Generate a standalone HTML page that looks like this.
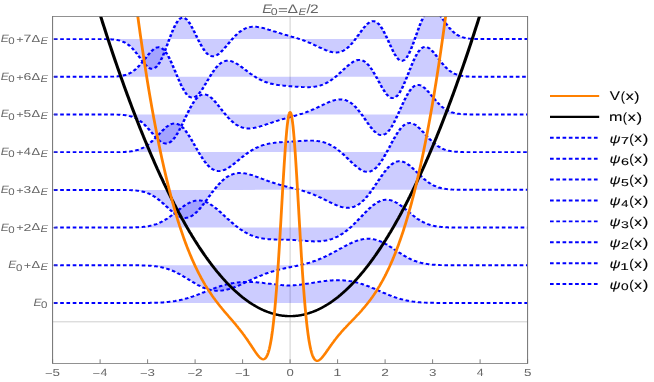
<!DOCTYPE html>
<html><head><meta charset="utf-8"><title>plot</title>
<style>
html,body{margin:0;padding:0;background:#fff;}
body{width:654px;height:382px;overflow:hidden;}
svg{display:block;font-family:"Liberation Sans",sans-serif;will-change:transform;text-rendering:geometricPrecision;}
</style></head><body>
<svg width="654" height="382" viewBox="0 0 654 382">
<defs><clipPath id="c"><rect x="40.153" y="16.5" width="362.595" height="347.0"/></clipPath></defs>
<rect width="654" height="382" fill="#fff"/>
<g transform="scale(1.31 1)">
<g stroke="#c6c6c6" stroke-width="0.75">
<line x1="221.45" y1="16.5" x2="221.45" y2="363.5"/>
<line x1="40.15" y1="321.80" x2="402.75" y2="321.80"/></g>
<g clip-path="url(#c)" fill="none">
<g fill="#0000ff" fill-opacity="0.2" stroke="#0000ff" stroke-width="1.95" stroke-dasharray="2.8 1.99" stroke-dashoffset="-1.0">
<path d="M40.15,302.9L40.67,302.9L41.19,302.9L41.71,302.9L42.22,302.9L42.74,302.9L43.26,302.9L43.78,302.9L44.30,302.9L44.81,302.9L45.33,302.9L45.85,302.9L46.37,302.9L46.89,302.9L47.40,302.9L47.92,302.9L48.44,302.9L48.96,302.9L49.48,302.9L49.99,302.9L50.51,302.9L51.03,302.9L51.55,302.9L52.07,302.9L52.58,302.9L53.10,302.9L53.62,302.9L54.14,302.9L54.66,302.9L55.17,302.9L55.69,302.9L56.21,302.9L56.73,302.9L57.25,302.9L57.76,302.9L58.28,302.9L58.80,302.9L59.32,302.9L59.84,302.9L60.35,302.9L60.87,302.9L61.39,302.9L61.91,302.9L62.43,302.9L62.94,302.9L63.46,302.9L63.98,302.9L64.50,302.9L65.02,302.9L65.53,302.9L66.05,302.9L66.57,302.9L67.09,302.9L67.61,302.9L68.12,302.9L68.64,302.9L69.16,302.9L69.68,302.9L70.20,302.9L70.71,302.9L71.23,302.9L71.75,302.9L72.27,302.9L72.79,302.9L73.30,302.9L73.82,302.9L74.34,302.9L74.86,302.9L75.38,302.9L75.89,302.9L76.41,302.9L76.93,302.9L77.45,302.9L77.97,302.9L78.48,302.9L79.00,302.9L79.52,302.9L80.04,302.9L80.56,302.9L81.07,302.9L81.59,302.9L82.11,302.9L82.63,302.9L83.15,302.9L83.66,302.9L84.18,302.9L84.70,302.9L85.22,302.9L85.74,302.9L86.25,302.9L86.77,302.9L87.29,302.9L87.81,302.9L88.33,302.9L88.84,302.9L89.36,302.9L89.88,302.9L90.40,302.9L90.92,302.9L91.43,302.9L91.95,302.9L92.47,302.9L92.99,302.9L93.51,302.9L94.02,302.9L94.54,302.9L95.06,302.9L95.58,302.9L96.10,302.9L96.61,302.9L97.13,302.9L97.65,302.9L98.17,302.9L98.69,302.9L99.20,302.9L99.72,302.9L100.24,302.9L100.76,302.9L101.28,302.9L101.79,302.9L102.31,302.9L102.83,302.9L103.35,302.9L103.87,302.9L104.38,302.9L104.90,302.9L105.42,302.9L105.94,302.9L106.46,302.9L106.97,302.9L107.49,302.9L108.01,302.9L108.53,302.9L109.05,302.9L109.56,302.9L110.08,302.9L110.60,302.9L111.12,302.9L111.64,302.9L112.15,302.9L112.67,302.9L113.19,302.9L113.71,302.9L114.23,302.9L114.74,302.8L115.26,302.8L115.78,302.8L116.30,302.8L116.82,302.8L117.33,302.8L117.85,302.8L118.37,302.7L118.89,302.7L119.41,302.7L119.92,302.7L120.44,302.6L120.96,302.6L121.48,302.6L122.00,302.6L122.51,302.5L123.03,302.5L123.55,302.4L124.07,302.4L124.59,302.4L125.10,302.3L125.62,302.3L126.14,302.2L126.66,302.2L127.18,302.1L127.69,302.0L128.21,302.0L128.73,301.9L129.25,301.8L129.77,301.7L130.28,301.7L130.80,301.6L131.32,301.5L131.84,301.4L132.36,301.3L132.87,301.2L133.39,301.1L133.91,301.0L134.43,300.8L134.95,300.7L135.46,300.6L135.98,300.5L136.50,300.3L137.02,300.2L137.54,300.0L138.05,299.9L138.57,299.7L139.09,299.6L139.61,299.4L140.13,299.2L140.64,299.1L141.16,298.9L141.68,298.7L142.20,298.5L142.72,298.3L143.23,298.1L143.75,297.9L144.27,297.7L144.79,297.5L145.31,297.3L145.82,297.0L146.34,296.8L146.86,296.6L147.38,296.4L147.90,296.1L148.41,295.9L148.93,295.6L149.45,295.4L149.97,295.1L150.49,294.9L151.00,294.6L151.52,294.4L152.04,294.1L152.56,293.9L153.08,293.6L153.59,293.3L154.11,293.1L154.63,292.8L155.15,292.5L155.67,292.3L156.18,292.0L156.70,291.7L157.22,291.5L157.74,291.2L158.26,290.9L158.77,290.7L159.29,290.4L159.81,290.1L160.33,289.9L160.85,289.6L161.36,289.3L161.88,289.1L162.40,288.8L162.92,288.6L163.44,288.3L163.95,288.1L164.47,287.8L164.99,287.6L165.51,287.4L166.03,287.1L166.54,286.9L167.06,286.7L167.58,286.5L168.10,286.2L168.62,286.0L169.13,285.8L169.65,285.6L170.17,285.4L170.69,285.2L171.21,285.0L171.72,284.9L172.24,284.7L172.76,284.5L173.28,284.3L173.79,284.2L174.31,284.0L174.83,283.9L175.35,283.7L175.87,283.6L176.38,283.5L176.90,283.3L177.42,283.2L177.94,283.1L178.46,283.0L178.97,282.9L179.49,282.8L180.01,282.7L180.53,282.6L181.05,282.5L181.56,282.4L182.08,282.4L182.60,282.3L183.12,282.2L183.64,282.2L184.15,282.1L184.67,282.1L185.19,282.1L185.71,282.0L186.23,282.0L186.74,282.0L187.26,281.9L187.78,281.9L188.30,281.9L188.82,281.9L189.33,281.9L189.85,281.9L190.37,281.9L190.89,282.0L191.41,282.0L191.92,282.0L192.44,282.0L192.96,282.1L193.48,282.1L194.00,282.1L194.51,282.2L195.03,282.2L195.55,282.3L196.07,282.3L196.59,282.4L197.10,282.4L197.62,282.5L198.14,282.6L198.66,282.6L199.18,282.7L199.69,282.8L200.21,282.8L200.73,282.9L201.25,283.0L201.77,283.1L202.28,283.2L202.80,283.2L203.32,283.3L203.84,283.4L204.36,283.5L204.87,283.6L205.39,283.7L205.91,283.8L206.43,283.8L206.95,283.9L207.46,284.0L207.98,284.1L208.50,284.2L209.02,284.3L209.54,284.3L210.05,284.4L210.57,284.5L211.09,284.6L211.61,284.7L212.13,284.7L212.64,284.8L213.16,284.9L213.68,284.9L214.20,285.0L214.72,285.0L215.23,285.1L215.75,285.2L216.27,285.2L216.79,285.2L217.31,285.3L217.82,285.3L218.34,285.3L218.86,285.4L219.38,285.4L219.90,285.4L220.41,285.4L220.93,285.4L221.45,285.4L221.97,285.4L222.49,285.4L223.00,285.3L223.52,285.3L224.04,285.3L224.56,285.2L225.08,285.2L225.59,285.1L226.11,285.1L226.63,285.0L227.15,285.0L227.67,284.9L228.18,284.8L228.70,284.8L229.22,284.7L229.74,284.6L230.26,284.5L230.77,284.4L231.29,284.3L231.81,284.2L232.33,284.1L232.85,284.1L233.36,283.9L233.88,283.8L234.40,283.7L234.92,283.6L235.44,283.5L235.95,283.4L236.47,283.3L236.99,283.2L237.51,283.1L238.03,283.0L238.54,282.9L239.06,282.8L239.58,282.6L240.10,282.5L240.62,282.4L241.13,282.3L241.65,282.2L242.17,282.1L242.69,282.0L243.21,281.9L243.72,281.8L244.24,281.7L244.76,281.6L245.28,281.5L245.80,281.4L246.31,281.3L246.83,281.2L247.35,281.1L247.87,281.0L248.39,281.0L248.90,280.9L249.42,280.8L249.94,280.7L250.46,280.7L250.98,280.6L251.49,280.6L252.01,280.5L252.53,280.4L253.05,280.4L253.57,280.4L254.08,280.3L254.60,280.3L255.12,280.2L255.64,280.2L256.16,280.2L256.67,280.2L257.19,280.2L257.71,280.2L258.23,280.2L258.75,280.2L259.26,280.2L259.78,280.2L260.30,280.2L260.82,280.3L261.34,280.3L261.85,280.3L262.37,280.4L262.89,280.4L263.41,280.5L263.93,280.6L264.44,280.6L264.96,280.7L265.48,280.8L266.00,280.9L266.52,281.0L267.03,281.1L267.55,281.2L268.07,281.3L268.59,281.4L269.11,281.6L269.62,281.7L270.14,281.8L270.66,282.0L271.18,282.1L271.70,282.3L272.21,282.5L272.73,282.6L273.25,282.8L273.77,283.0L274.29,283.2L274.80,283.4L275.32,283.6L275.84,283.8L276.36,284.0L276.88,284.3L277.39,284.5L277.91,284.7L278.43,285.0L278.95,285.2L279.47,285.4L279.98,285.7L280.50,286.0L281.02,286.2L281.54,286.5L282.06,286.7L282.57,287.0L283.09,287.3L283.61,287.6L284.13,287.9L284.65,288.1L285.16,288.4L285.68,288.7L286.20,289.0L286.72,289.3L287.24,289.6L287.75,289.9L288.27,290.2L288.79,290.5L289.31,290.8L289.83,291.1L290.34,291.4L290.86,291.7L291.38,292.0L291.90,292.3L292.42,292.6L292.93,292.8L293.45,293.1L293.97,293.4L294.49,293.7L295.01,294.0L295.52,294.3L296.04,294.6L296.56,294.8L297.08,295.1L297.60,295.4L298.11,295.6L298.63,295.9L299.15,296.2L299.67,296.4L300.19,296.7L300.70,296.9L301.22,297.1L301.74,297.4L302.26,297.6L302.78,297.8L303.29,298.0L303.81,298.3L304.33,298.5L304.85,298.7L305.37,298.9L305.88,299.1L306.40,299.2L306.92,299.4L307.44,299.6L307.96,299.8L308.47,299.9L308.99,300.1L309.51,300.2L310.03,300.4L310.55,300.5L311.06,300.7L311.58,300.8L312.10,300.9L312.62,301.0L313.14,301.1L313.65,301.3L314.17,301.4L314.69,301.5L315.21,301.6L315.73,301.6L316.24,301.7L316.76,301.8L317.28,301.9L317.80,302.0L318.32,302.0L318.83,302.1L319.35,302.2L319.87,302.2L320.39,302.3L320.91,302.3L321.42,302.4L321.94,302.4L322.46,302.5L322.98,302.5L323.50,302.5L324.01,302.6L324.53,302.6L325.05,302.6L325.57,302.7L326.09,302.7L326.60,302.7L327.12,302.7L327.64,302.7L328.16,302.8L328.68,302.8L329.19,302.8L329.71,302.8L330.23,302.8L330.75,302.8L331.26,302.8L331.78,302.9L332.30,302.9L332.82,302.9L333.34,302.9L333.85,302.9L334.37,302.9L334.89,302.9L335.41,302.9L335.93,302.9L336.44,302.9L336.96,302.9L337.48,302.9L338.00,302.9L338.52,302.9L339.03,302.9L339.55,302.9L340.07,302.9L340.59,302.9L341.11,302.9L341.62,302.9L342.14,302.9L342.66,302.9L343.18,302.9L343.70,302.9L344.21,302.9L344.73,302.9L345.25,302.9L345.77,302.9L346.29,302.9L346.80,302.9L347.32,302.9L347.84,302.9L348.36,302.9L348.88,302.9L349.39,302.9L349.91,302.9L350.43,302.9L350.95,302.9L351.47,302.9L351.98,302.9L352.50,302.9L353.02,302.9L353.54,302.9L354.06,302.9L354.57,302.9L355.09,302.9L355.61,302.9L356.13,302.9L356.65,302.9L357.16,302.9L357.68,302.9L358.20,302.9L358.72,302.9L359.24,302.9L359.75,302.9L360.27,302.9L360.79,302.9L361.31,302.9L361.83,302.9L362.34,302.9L362.86,302.9L363.38,302.9L363.90,302.9L364.42,302.9L364.93,302.9L365.45,302.9L365.97,302.9L366.49,302.9L367.01,302.9L367.52,302.9L368.04,302.9L368.56,302.9L369.08,302.9L369.60,302.9L370.11,302.9L370.63,302.9L371.15,302.9L371.67,302.9L372.19,302.9L372.70,302.9L373.22,302.9L373.74,302.9L374.26,302.9L374.78,302.9L375.29,302.9L375.81,302.9L376.33,302.9L376.85,302.9L377.37,302.9L377.88,302.9L378.40,302.9L378.92,302.9L379.44,302.9L379.96,302.9L380.47,302.9L380.99,302.9L381.51,302.9L382.03,302.9L382.55,302.9L383.06,302.9L383.58,302.9L384.10,302.9L384.62,302.9L385.14,302.9L385.65,302.9L386.17,302.9L386.69,302.9L387.21,302.9L387.73,302.9L388.24,302.9L388.76,302.9L389.28,302.9L389.80,302.9L390.32,302.9L390.83,302.9L391.35,302.9L391.87,302.9L392.39,302.9L392.91,302.9L393.42,302.9L393.94,302.9L394.46,302.9L394.98,302.9L395.50,302.9L396.01,302.9L396.53,302.9L397.05,302.9L397.57,302.9L398.09,302.9L398.60,302.9L399.12,302.9L399.64,302.9L400.16,302.9L400.68,302.9L401.19,302.9L401.71,302.9L402.23,302.9L402.75,302.9"/>
<path d="M40.15,265.2L40.67,265.2L41.19,265.2L41.71,265.2L42.22,265.2L42.74,265.2L43.26,265.2L43.78,265.2L44.30,265.2L44.81,265.2L45.33,265.2L45.85,265.2L46.37,265.3L46.89,265.3L47.40,265.3L47.92,265.3L48.44,265.3L48.96,265.3L49.48,265.3L49.99,265.3L50.51,265.3L51.03,265.3L51.55,265.3L52.07,265.3L52.58,265.3L53.10,265.3L53.62,265.3L54.14,265.3L54.66,265.3L55.17,265.3L55.69,265.3L56.21,265.3L56.73,265.3L57.25,265.3L57.76,265.3L58.28,265.3L58.80,265.3L59.32,265.3L59.84,265.3L60.35,265.3L60.87,265.3L61.39,265.3L61.91,265.3L62.43,265.3L62.94,265.3L63.46,265.3L63.98,265.3L64.50,265.3L65.02,265.3L65.53,265.3L66.05,265.3L66.57,265.3L67.09,265.3L67.61,265.3L68.12,265.3L68.64,265.3L69.16,265.3L69.68,265.3L70.20,265.3L70.71,265.3L71.23,265.3L71.75,265.3L72.27,265.3L72.79,265.3L73.30,265.3L73.82,265.3L74.34,265.3L74.86,265.3L75.38,265.3L75.89,265.3L76.41,265.3L76.93,265.3L77.45,265.3L77.97,265.3L78.48,265.3L79.00,265.3L79.52,265.3L80.04,265.3L80.56,265.3L81.07,265.3L81.59,265.3L82.11,265.3L82.63,265.3L83.15,265.3L83.66,265.3L84.18,265.3L84.70,265.3L85.22,265.3L85.74,265.3L86.25,265.3L86.77,265.3L87.29,265.3L87.81,265.3L88.33,265.3L88.84,265.3L89.36,265.3L89.88,265.3L90.40,265.3L90.92,265.3L91.43,265.3L91.95,265.3L92.47,265.3L92.99,265.3L93.51,265.3L94.02,265.3L94.54,265.3L95.06,265.3L95.58,265.3L96.10,265.3L96.61,265.3L97.13,265.3L97.65,265.3L98.17,265.3L98.69,265.3L99.20,265.3L99.72,265.3L100.24,265.3L100.76,265.3L101.28,265.3L101.79,265.3L102.31,265.3L102.83,265.3L103.35,265.3L103.87,265.3L104.38,265.3L104.90,265.3L105.42,265.3L105.94,265.3L106.46,265.3L106.97,265.4L107.49,265.4L108.01,265.4L108.53,265.4L109.05,265.4L109.56,265.4L110.08,265.5L110.60,265.5L111.12,265.5L111.64,265.5L112.15,265.6L112.67,265.6L113.19,265.6L113.71,265.7L114.23,265.7L114.74,265.8L115.26,265.8L115.78,265.9L116.30,265.9L116.82,266.0L117.33,266.1L117.85,266.2L118.37,266.2L118.89,266.3L119.41,266.4L119.92,266.5L120.44,266.6L120.96,266.7L121.48,266.8L122.00,267.0L122.51,267.1L123.03,267.2L123.55,267.4L124.07,267.5L124.59,267.7L125.10,267.8L125.62,268.0L126.14,268.2L126.66,268.4L127.18,268.6L127.69,268.8L128.21,269.0L128.73,269.3L129.25,269.5L129.77,269.7L130.28,270.0L130.80,270.3L131.32,270.5L131.84,270.8L132.36,271.1L132.87,271.4L133.39,271.7L133.91,272.1L134.43,272.4L134.95,272.7L135.46,273.1L135.98,273.4L136.50,273.8L137.02,274.1L137.54,274.5L138.05,274.9L138.57,275.3L139.09,275.7L139.61,276.1L140.13,276.5L140.64,276.9L141.16,277.3L141.68,277.7L142.20,278.1L142.72,278.5L143.23,278.9L143.75,279.3L144.27,279.8L144.79,280.2L145.31,280.6L145.82,281.0L146.34,281.4L146.86,281.8L147.38,282.2L147.90,282.6L148.41,283.0L148.93,283.4L149.45,283.8L149.97,284.2L150.49,284.6L151.00,285.0L151.52,285.3L152.04,285.7L152.56,286.0L153.08,286.4L153.59,286.7L154.11,287.0L154.63,287.3L155.15,287.6L155.67,287.9L156.18,288.2L156.70,288.4L157.22,288.7L157.74,288.9L158.26,289.1L158.77,289.3L159.29,289.5L159.81,289.7L160.33,289.9L160.85,290.0L161.36,290.2L161.88,290.3L162.40,290.4L162.92,290.5L163.44,290.6L163.95,290.6L164.47,290.7L164.99,290.7L165.51,290.8L166.03,290.8L166.54,290.8L167.06,290.8L167.58,290.7L168.10,290.7L168.62,290.6L169.13,290.6L169.65,290.5L170.17,290.4L170.69,290.3L171.21,290.2L171.72,290.0L172.24,289.9L172.76,289.8L173.28,289.6L173.79,289.4L174.31,289.2L174.83,289.1L175.35,288.8L175.87,288.6L176.38,288.4L176.90,288.2L177.42,288.0L177.94,287.7L178.46,287.5L178.97,287.2L179.49,287.0L180.01,286.7L180.53,286.4L181.05,286.1L181.56,285.8L182.08,285.6L182.60,285.3L183.12,285.0L183.64,284.7L184.15,284.4L184.67,284.1L185.19,283.8L185.71,283.4L186.23,283.1L186.74,282.8L187.26,282.5L187.78,282.2L188.30,281.9L188.82,281.6L189.33,281.3L189.85,280.9L190.37,280.6L190.89,280.3L191.41,280.0L191.92,279.7L192.44,279.4L192.96,279.1L193.48,278.8L194.00,278.5L194.51,278.1L195.03,277.8L195.55,277.5L196.07,277.3L196.59,277.0L197.10,276.7L197.62,276.4L198.14,276.1L198.66,275.8L199.18,275.6L199.69,275.3L200.21,275.0L200.73,274.7L201.25,274.5L201.77,274.2L202.28,274.0L202.80,273.7L203.32,273.5L203.84,273.2L204.36,273.0L204.87,272.8L205.39,272.5L205.91,272.3L206.43,272.1L206.95,271.9L207.46,271.7L207.98,271.5L208.50,271.3L209.02,271.1L209.54,270.9L210.05,270.7L210.57,270.5L211.09,270.3L211.61,270.1L212.13,269.9L212.64,269.8L213.16,269.6L213.68,269.4L214.20,269.3L214.72,269.1L215.23,268.9L215.75,268.8L216.27,268.6L216.79,268.5L217.31,268.3L217.82,268.2L218.34,268.0L218.86,267.9L219.38,267.8L219.90,267.6L220.41,267.5L220.93,267.3L221.45,267.2L221.97,267.1L222.49,266.9L223.00,266.8L223.52,266.7L224.04,266.5L224.56,266.4L225.08,266.2L225.59,266.1L226.11,266.0L226.63,265.8L227.15,265.7L227.67,265.5L228.18,265.4L228.70,265.2L229.22,265.1L229.74,264.9L230.26,264.8L230.77,264.6L231.29,264.4L231.81,264.3L232.33,264.1L232.85,263.9L233.36,263.7L233.88,263.6L234.40,263.4L234.92,263.2L235.44,263.0L235.95,262.8L236.47,262.6L236.99,262.4L237.51,262.2L238.03,261.9L238.54,261.7L239.06,261.5L239.58,261.2L240.10,261.0L240.62,260.8L241.13,260.5L241.65,260.3L242.17,260.0L242.69,259.7L243.21,259.5L243.72,259.2L244.24,258.9L244.76,258.6L245.28,258.3L245.80,258.0L246.31,257.7L246.83,257.4L247.35,257.1L247.87,256.8L248.39,256.5L248.90,256.2L249.42,255.8L249.94,255.5L250.46,255.2L250.98,254.8L251.49,254.5L252.01,254.1L252.53,253.8L253.05,253.4L253.57,253.1L254.08,252.7L254.60,252.4L255.12,252.0L255.64,251.6L256.16,251.3L256.67,250.9L257.19,250.5L257.71,250.1L258.23,249.8L258.75,249.4L259.26,249.0L259.78,248.6L260.30,248.3L260.82,247.9L261.34,247.5L261.85,247.2L262.37,246.8L262.89,246.4L263.41,246.1L263.93,245.7L264.44,245.4L264.96,245.0L265.48,244.7L266.00,244.3L266.52,244.0L267.03,243.7L267.55,243.4L268.07,243.1L268.59,242.7L269.11,242.5L269.62,242.2L270.14,241.9L270.66,241.6L271.18,241.3L271.70,241.1L272.21,240.9L272.73,240.6L273.25,240.4L273.77,240.2L274.29,240.0L274.80,239.8L275.32,239.7L275.84,239.5L276.36,239.4L276.88,239.2L277.39,239.1L277.91,239.0L278.43,238.9L278.95,238.9L279.47,238.8L279.98,238.8L280.50,238.7L281.02,238.7L281.54,238.8L282.06,238.8L282.57,238.8L283.09,238.9L283.61,239.0L284.13,239.0L284.65,239.2L285.16,239.3L285.68,239.4L286.20,239.6L286.72,239.7L287.24,239.9L287.75,240.1L288.27,240.4L288.79,240.6L289.31,240.8L289.83,241.1L290.34,241.4L290.86,241.7L291.38,242.0L291.90,242.3L292.42,242.6L292.93,243.0L293.45,243.3L293.97,243.7L294.49,244.1L295.01,244.4L295.52,244.8L296.04,245.2L296.56,245.6L297.08,246.1L297.60,246.5L298.11,246.9L298.63,247.3L299.15,247.8L299.67,248.2L300.19,248.7L300.70,249.1L301.22,249.6L301.74,250.0L302.26,250.5L302.78,250.9L303.29,251.4L303.81,251.8L304.33,252.3L304.85,252.7L305.37,253.1L305.88,253.6L306.40,254.0L306.92,254.4L307.44,254.8L307.96,255.2L308.47,255.7L308.99,256.0L309.51,256.4L310.03,256.8L310.55,257.2L311.06,257.6L311.58,257.9L312.10,258.3L312.62,258.6L313.14,258.9L313.65,259.3L314.17,259.6L314.69,259.9L315.21,260.2L315.73,260.4L316.24,260.7L316.76,261.0L317.28,261.2L317.80,261.4L318.32,261.7L318.83,261.9L319.35,262.1L319.87,262.3L320.39,262.5L320.91,262.7L321.42,262.9L321.94,263.0L322.46,263.2L322.98,263.3L323.50,263.5L324.01,263.6L324.53,263.7L325.05,263.8L325.57,263.9L326.09,264.0L326.60,264.1L327.12,264.2L327.64,264.3L328.16,264.4L328.68,264.5L329.19,264.5L329.71,264.6L330.23,264.7L330.75,264.7L331.26,264.8L331.78,264.8L332.30,264.8L332.82,264.9L333.34,264.9L333.85,265.0L334.37,265.0L334.89,265.0L335.41,265.0L335.93,265.1L336.44,265.1L336.96,265.1L337.48,265.1L338.00,265.1L338.52,265.1L339.03,265.2L339.55,265.2L340.07,265.2L340.59,265.2L341.11,265.2L341.62,265.2L342.14,265.2L342.66,265.2L343.18,265.2L343.70,265.2L344.21,265.2L344.73,265.2L345.25,265.2L345.77,265.2L346.29,265.2L346.80,265.2L347.32,265.2L347.84,265.2L348.36,265.2L348.88,265.2L349.39,265.2L349.91,265.2L350.43,265.2L350.95,265.2L351.47,265.2L351.98,265.2L352.50,265.2L353.02,265.2L353.54,265.2L354.06,265.2L354.57,265.2L355.09,265.2L355.61,265.2L356.13,265.2L356.65,265.2L357.16,265.2L357.68,265.2L358.20,265.2L358.72,265.2L359.24,265.2L359.75,265.2L360.27,265.2L360.79,265.2L361.31,265.2L361.83,265.2L362.34,265.2L362.86,265.2L363.38,265.2L363.90,265.2L364.42,265.2L364.93,265.2L365.45,265.2L365.97,265.2L366.49,265.2L367.01,265.2L367.52,265.2L368.04,265.2L368.56,265.2L369.08,265.2L369.60,265.2L370.11,265.2L370.63,265.2L371.15,265.2L371.67,265.2L372.19,265.2L372.70,265.2L373.22,265.2L373.74,265.2L374.26,265.2L374.78,265.2L375.29,265.2L375.81,265.2L376.33,265.2L376.85,265.2L377.37,265.2L377.88,265.2L378.40,265.2L378.92,265.2L379.44,265.2L379.96,265.2L380.47,265.2L380.99,265.2L381.51,265.2L382.03,265.2L382.55,265.2L383.06,265.2L383.58,265.2L384.10,265.2L384.62,265.2L385.14,265.2L385.65,265.2L386.17,265.2L386.69,265.2L387.21,265.2L387.73,265.2L388.24,265.2L388.76,265.2L389.28,265.2L389.80,265.2L390.32,265.2L390.83,265.2L391.35,265.2L391.87,265.2L392.39,265.2L392.91,265.2L393.42,265.2L393.94,265.2L394.46,265.2L394.98,265.2L395.50,265.2L396.01,265.2L396.53,265.2L397.05,265.2L397.57,265.2L398.09,265.2L398.60,265.2L399.12,265.2L399.64,265.2L400.16,265.2L400.68,265.2L401.19,265.2L401.71,265.2L402.23,265.2L402.75,265.2"/>
<path d="M40.15,227.6L40.67,227.6L41.19,227.6L41.71,227.6L42.22,227.6L42.74,227.5L43.26,227.5L43.78,227.5L44.30,227.5L44.81,227.5L45.33,227.5L45.85,227.5L46.37,227.5L46.89,227.5L47.40,227.5L47.92,227.5L48.44,227.5L48.96,227.5L49.48,227.5L49.99,227.5L50.51,227.5L51.03,227.5L51.55,227.5L52.07,227.5L52.58,227.5L53.10,227.5L53.62,227.5L54.14,227.5L54.66,227.5L55.17,227.5L55.69,227.5L56.21,227.5L56.73,227.5L57.25,227.5L57.76,227.5L58.28,227.5L58.80,227.5L59.32,227.5L59.84,227.5L60.35,227.5L60.87,227.5L61.39,227.5L61.91,227.5L62.43,227.5L62.94,227.5L63.46,227.5L63.98,227.5L64.50,227.5L65.02,227.5L65.53,227.5L66.05,227.5L66.57,227.5L67.09,227.5L67.61,227.5L68.12,227.5L68.64,227.5L69.16,227.5L69.68,227.5L70.20,227.5L70.71,227.5L71.23,227.5L71.75,227.5L72.27,227.5L72.79,227.5L73.30,227.5L73.82,227.5L74.34,227.5L74.86,227.5L75.38,227.5L75.89,227.5L76.41,227.5L76.93,227.5L77.45,227.5L77.97,227.5L78.48,227.5L79.00,227.5L79.52,227.5L80.04,227.5L80.56,227.5L81.07,227.5L81.59,227.5L82.11,227.5L82.63,227.5L83.15,227.5L83.66,227.5L84.18,227.5L84.70,227.5L85.22,227.5L85.74,227.5L86.25,227.5L86.77,227.5L87.29,227.5L87.81,227.5L88.33,227.5L88.84,227.5L89.36,227.5L89.88,227.5L90.40,227.5L90.92,227.5L91.43,227.5L91.95,227.5L92.47,227.5L92.99,227.5L93.51,227.5L94.02,227.5L94.54,227.5L95.06,227.5L95.58,227.5L96.10,227.5L96.61,227.5L97.13,227.5L97.65,227.5L98.17,227.5L98.69,227.5L99.20,227.5L99.72,227.5L100.24,227.5L100.76,227.4L101.28,227.4L101.79,227.4L102.31,227.4L102.83,227.4L103.35,227.4L103.87,227.3L104.38,227.3L104.90,227.3L105.42,227.2L105.94,227.2L106.46,227.2L106.97,227.1L107.49,227.1L108.01,227.0L108.53,227.0L109.05,226.9L109.56,226.8L110.08,226.8L110.60,226.7L111.12,226.6L111.64,226.5L112.15,226.4L112.67,226.3L113.19,226.2L113.71,226.1L114.23,225.9L114.74,225.8L115.26,225.6L115.78,225.5L116.30,225.3L116.82,225.1L117.33,224.9L117.85,224.7L118.37,224.5L118.89,224.3L119.41,224.1L119.92,223.8L120.44,223.5L120.96,223.3L121.48,223.0L122.00,222.7L122.51,222.3L123.03,222.0L123.55,221.7L124.07,221.3L124.59,220.9L125.10,220.6L125.62,220.2L126.14,219.8L126.66,219.3L127.18,218.9L127.69,218.5L128.21,218.0L128.73,217.5L129.25,217.1L129.77,216.6L130.28,216.1L130.80,215.6L131.32,215.1L131.84,214.6L132.36,214.0L132.87,213.5L133.39,213.0L133.91,212.5L134.43,211.9L134.95,211.4L135.46,210.9L135.98,210.3L136.50,209.8L137.02,209.3L137.54,208.8L138.05,208.2L138.57,207.7L139.09,207.2L139.61,206.7L140.13,206.3L140.64,205.8L141.16,205.3L141.68,204.9L142.20,204.5L142.72,204.1L143.23,203.7L143.75,203.3L144.27,203.0L144.79,202.6L145.31,202.3L145.82,202.0L146.34,201.7L146.86,201.5L147.38,201.3L147.90,201.1L148.41,200.9L148.93,200.8L149.45,200.6L149.97,200.5L150.49,200.5L151.00,200.4L151.52,200.4L152.04,200.4L152.56,200.5L153.08,200.5L153.59,200.6L154.11,200.7L154.63,200.9L155.15,201.0L155.67,201.2L156.18,201.4L156.70,201.7L157.22,202.0L157.74,202.3L158.26,202.6L158.77,202.9L159.29,203.3L159.81,203.6L160.33,204.1L160.85,204.5L161.36,204.9L161.88,205.4L162.40,205.8L162.92,206.3L163.44,206.8L163.95,207.4L164.47,207.9L164.99,208.5L165.51,209.0L166.03,209.6L166.54,210.2L167.06,210.7L167.58,211.3L168.10,212.0L168.62,212.6L169.13,213.2L169.65,213.8L170.17,214.4L170.69,215.0L171.21,215.7L171.72,216.3L172.24,216.9L172.76,217.6L173.28,218.2L173.79,218.8L174.31,219.4L174.83,220.0L175.35,220.6L175.87,221.3L176.38,221.9L176.90,222.4L177.42,223.0L177.94,223.6L178.46,224.2L178.97,224.8L179.49,225.3L180.01,225.9L180.53,226.4L181.05,226.9L181.56,227.4L182.08,227.9L182.60,228.4L183.12,228.9L183.64,229.4L184.15,229.8L184.67,230.3L185.19,230.7L185.71,231.2L186.23,231.6L186.74,232.0L187.26,232.4L187.78,232.7L188.30,233.1L188.82,233.5L189.33,233.8L189.85,234.1L190.37,234.5L190.89,234.8L191.41,235.1L191.92,235.3L192.44,235.6L192.96,235.9L193.48,236.1L194.00,236.4L194.51,236.6L195.03,236.8L195.55,237.0L196.07,237.2L196.59,237.4L197.10,237.6L197.62,237.7L198.14,237.9L198.66,238.0L199.18,238.2L199.69,238.3L200.21,238.4L200.73,238.5L201.25,238.6L201.77,238.7L202.28,238.8L202.80,238.9L203.32,239.0L203.84,239.1L204.36,239.1L204.87,239.2L205.39,239.2L205.91,239.3L206.43,239.3L206.95,239.4L207.46,239.4L207.98,239.4L208.50,239.5L209.02,239.5L209.54,239.5L210.05,239.5L210.57,239.5L211.09,239.6L211.61,239.6L212.13,239.6L212.64,239.6L213.16,239.6L213.68,239.6L214.20,239.6L214.72,239.6L215.23,239.6L215.75,239.6L216.27,239.6L216.79,239.7L217.31,239.7L217.82,239.7L218.34,239.7L218.86,239.7L219.38,239.7L219.90,239.7L220.41,239.8L220.93,239.8L221.45,239.8L221.97,239.8L222.49,239.9L223.00,239.9L223.52,239.9L224.04,240.0L224.56,240.0L225.08,240.1L225.59,240.1L226.11,240.2L226.63,240.2L227.15,240.3L227.67,240.3L228.18,240.4L228.70,240.4L229.22,240.5L229.74,240.5L230.26,240.6L230.77,240.6L231.29,240.7L231.81,240.7L232.33,240.8L232.85,240.8L233.36,240.9L233.88,241.0L234.40,241.0L234.92,241.1L235.44,241.1L235.95,241.1L236.47,241.2L236.99,241.2L237.51,241.3L238.03,241.3L238.54,241.3L239.06,241.3L239.58,241.4L240.10,241.4L240.62,241.4L241.13,241.4L241.65,241.4L242.17,241.4L242.69,241.3L243.21,241.3L243.72,241.3L244.24,241.2L244.76,241.2L245.28,241.1L245.80,241.1L246.31,241.0L246.83,240.9L247.35,240.8L247.87,240.7L248.39,240.6L248.90,240.5L249.42,240.4L249.94,240.2L250.46,240.1L250.98,239.9L251.49,239.7L252.01,239.5L252.53,239.3L253.05,239.1L253.57,238.9L254.08,238.6L254.60,238.4L255.12,238.1L255.64,237.8L256.16,237.5L256.67,237.2L257.19,236.9L257.71,236.6L258.23,236.2L258.75,235.8L259.26,235.5L259.78,235.1L260.30,234.6L260.82,234.2L261.34,233.8L261.85,233.3L262.37,232.8L262.89,232.4L263.41,231.9L263.93,231.3L264.44,230.8L264.96,230.3L265.48,229.7L266.00,229.2L266.52,228.6L267.03,228.0L267.55,227.4L268.07,226.8L268.59,226.1L269.11,225.5L269.62,224.8L270.14,224.2L270.66,223.5L271.18,222.8L271.70,222.2L272.21,221.5L272.73,220.8L273.25,220.1L273.77,219.4L274.29,218.7L274.80,218.0L275.32,217.3L275.84,216.6L276.36,215.9L276.88,215.1L277.39,214.4L277.91,213.7L278.43,213.0L278.95,212.4L279.47,211.7L279.98,211.0L280.50,210.3L281.02,209.7L281.54,209.0L282.06,208.4L282.57,207.8L283.09,207.2L283.61,206.6L284.13,206.1L284.65,205.5L285.16,205.0L285.68,204.5L286.20,204.0L286.72,203.5L287.24,203.1L287.75,202.7L288.27,202.3L288.79,201.9L289.31,201.6L289.83,201.2L290.34,201.0L290.86,200.7L291.38,200.5L291.90,200.3L292.42,200.1L292.93,200.0L293.45,199.9L293.97,199.8L294.49,199.7L295.01,199.7L295.52,199.7L296.04,199.8L296.56,199.8L297.08,199.9L297.60,200.1L298.11,200.2L298.63,200.4L299.15,200.6L299.67,200.9L300.19,201.1L300.70,201.4L301.22,201.7L301.74,202.1L302.26,202.5L302.78,202.8L303.29,203.2L303.81,203.7L304.33,204.1L304.85,204.6L305.37,205.1L305.88,205.5L306.40,206.0L306.92,206.6L307.44,207.1L307.96,207.6L308.47,208.2L308.99,208.7L309.51,209.3L310.03,209.8L310.55,210.4L311.06,211.0L311.58,211.5L312.10,212.1L312.62,212.7L313.14,213.2L313.65,213.8L314.17,214.3L314.69,214.9L315.21,215.4L315.73,215.9L316.24,216.4L316.76,217.0L317.28,217.5L317.80,217.9L318.32,218.4L318.83,218.9L319.35,219.3L319.87,219.8L320.39,220.2L320.91,220.6L321.42,221.0L321.94,221.4L322.46,221.7L322.98,222.1L323.50,222.4L324.01,222.8L324.53,223.1L325.05,223.4L325.57,223.6L326.09,223.9L326.60,224.2L327.12,224.4L327.64,224.6L328.16,224.9L328.68,225.1L329.19,225.3L329.71,225.4L330.23,225.6L330.75,225.8L331.26,225.9L331.78,226.0L332.30,226.2L332.82,226.3L333.34,226.4L333.85,226.5L334.37,226.6L334.89,226.7L335.41,226.8L335.93,226.8L336.44,226.9L336.96,227.0L337.48,227.0L338.00,227.1L338.52,227.1L339.03,227.2L339.55,227.2L340.07,227.3L340.59,227.3L341.11,227.3L341.62,227.3L342.14,227.4L342.66,227.4L343.18,227.4L343.70,227.4L344.21,227.4L344.73,227.5L345.25,227.5L345.77,227.5L346.29,227.5L346.80,227.5L347.32,227.5L347.84,227.5L348.36,227.5L348.88,227.5L349.39,227.5L349.91,227.5L350.43,227.5L350.95,227.5L351.47,227.5L351.98,227.5L352.50,227.5L353.02,227.5L353.54,227.5L354.06,227.5L354.57,227.5L355.09,227.5L355.61,227.5L356.13,227.5L356.65,227.5L357.16,227.5L357.68,227.5L358.20,227.5L358.72,227.5L359.24,227.5L359.75,227.5L360.27,227.5L360.79,227.5L361.31,227.5L361.83,227.5L362.34,227.5L362.86,227.5L363.38,227.5L363.90,227.5L364.42,227.5L364.93,227.5L365.45,227.5L365.97,227.5L366.49,227.5L367.01,227.5L367.52,227.5L368.04,227.5L368.56,227.5L369.08,227.5L369.60,227.5L370.11,227.5L370.63,227.5L371.15,227.5L371.67,227.5L372.19,227.5L372.70,227.5L373.22,227.5L373.74,227.5L374.26,227.5L374.78,227.5L375.29,227.5L375.81,227.5L376.33,227.5L376.85,227.5L377.37,227.5L377.88,227.5L378.40,227.5L378.92,227.5L379.44,227.5L379.96,227.5L380.47,227.5L380.99,227.5L381.51,227.5L382.03,227.5L382.55,227.5L383.06,227.5L383.58,227.5L384.10,227.5L384.62,227.5L385.14,227.5L385.65,227.5L386.17,227.5L386.69,227.5L387.21,227.5L387.73,227.5L388.24,227.5L388.76,227.5L389.28,227.5L389.80,227.5L390.32,227.5L390.83,227.5L391.35,227.5L391.87,227.5L392.39,227.5L392.91,227.5L393.42,227.5L393.94,227.5L394.46,227.5L394.98,227.5L395.50,227.5L396.01,227.5L396.53,227.5L397.05,227.5L397.57,227.5L398.09,227.5L398.60,227.5L399.12,227.5L399.64,227.5L400.16,227.5L400.68,227.5L401.19,227.5L401.71,227.5L402.23,227.5L402.75,227.6"/>
<path d="M40.15,189.9L40.67,189.9L41.19,189.9L41.71,189.9L42.22,189.9L42.74,189.9L43.26,189.9L43.78,189.9L44.30,189.9L44.81,189.9L45.33,189.9L45.85,189.9L46.37,189.9L46.89,189.9L47.40,189.9L47.92,189.9L48.44,189.9L48.96,189.9L49.48,189.9L49.99,189.9L50.51,189.9L51.03,189.9L51.55,189.9L52.07,189.9L52.58,189.9L53.10,189.9L53.62,189.9L54.14,189.9L54.66,189.9L55.17,189.9L55.69,189.9L56.21,189.9L56.73,189.9L57.25,189.9L57.76,189.9L58.28,189.9L58.80,189.9L59.32,189.9L59.84,189.9L60.35,189.9L60.87,189.9L61.39,189.9L61.91,189.9L62.43,189.9L62.94,189.9L63.46,189.9L63.98,189.9L64.50,189.9L65.02,189.9L65.53,189.9L66.05,189.9L66.57,189.9L67.09,189.9L67.61,189.9L68.12,189.9L68.64,189.9L69.16,189.9L69.68,189.9L70.20,189.9L70.71,189.9L71.23,189.9L71.75,189.9L72.27,189.9L72.79,189.9L73.30,189.9L73.82,189.9L74.34,189.9L74.86,189.9L75.38,189.9L75.89,189.9L76.41,189.9L76.93,189.9L77.45,189.9L77.97,189.9L78.48,189.9L79.00,189.9L79.52,189.9L80.04,189.9L80.56,189.9L81.07,189.9L81.59,189.9L82.11,189.9L82.63,189.9L83.15,189.9L83.66,189.9L84.18,189.9L84.70,189.9L85.22,189.9L85.74,189.9L86.25,189.9L86.77,189.9L87.29,189.9L87.81,189.9L88.33,189.9L88.84,189.9L89.36,189.9L89.88,189.9L90.40,189.9L90.92,189.9L91.43,189.9L91.95,189.9L92.47,189.9L92.99,189.9L93.51,189.9L94.02,189.9L94.54,189.9L95.06,189.9L95.58,189.9L96.10,190.0L96.61,190.0L97.13,190.0L97.65,190.0L98.17,190.0L98.69,190.1L99.20,190.1L99.72,190.1L100.24,190.2L100.76,190.2L101.28,190.2L101.79,190.3L102.31,190.3L102.83,190.4L103.35,190.5L103.87,190.5L104.38,190.6L104.90,190.7L105.42,190.8L105.94,190.9L106.46,191.0L106.97,191.1L107.49,191.2L108.01,191.4L108.53,191.5L109.05,191.7L109.56,191.8L110.08,192.0L110.60,192.2L111.12,192.4L111.64,192.7L112.15,192.9L112.67,193.2L113.19,193.4L113.71,193.7L114.23,194.0L114.74,194.3L115.26,194.7L115.78,195.0L116.30,195.4L116.82,195.8L117.33,196.2L117.85,196.6L118.37,197.1L118.89,197.5L119.41,198.0L119.92,198.5L120.44,199.0L120.96,199.5L121.48,200.0L122.00,200.6L122.51,201.1L123.03,201.7L123.55,202.3L124.07,202.9L124.59,203.5L125.10,204.1L125.62,204.7L126.14,205.4L126.66,206.0L127.18,206.6L127.69,207.2L128.21,207.9L128.73,208.5L129.25,209.1L129.77,209.7L130.28,210.3L130.80,210.9L131.32,211.5L131.84,212.1L132.36,212.6L132.87,213.2L133.39,213.7L133.91,214.2L134.43,214.6L134.95,215.1L135.46,215.5L135.98,215.9L136.50,216.2L137.02,216.6L137.54,216.9L138.05,217.1L138.57,217.3L139.09,217.5L139.61,217.7L140.13,217.8L140.64,217.9L141.16,217.9L141.68,217.9L142.20,217.8L142.72,217.7L143.23,217.6L143.75,217.4L144.27,217.2L144.79,216.9L145.31,216.6L145.82,216.3L146.34,215.9L146.86,215.5L147.38,215.0L147.90,214.6L148.41,214.0L148.93,213.5L149.45,212.9L149.97,212.2L150.49,211.6L151.00,210.9L151.52,210.1L152.04,209.4L152.56,208.6L153.08,207.8L153.59,207.0L154.11,206.2L154.63,205.3L155.15,204.4L155.67,203.5L156.18,202.7L156.70,201.7L157.22,200.8L157.74,199.9L158.26,199.0L158.77,198.1L159.29,197.1L159.81,196.2L160.33,195.3L160.85,194.4L161.36,193.4L161.88,192.5L162.40,191.6L162.92,190.8L163.44,189.9L163.95,189.0L164.47,188.2L164.99,187.4L165.51,186.5L166.03,185.8L166.54,185.0L167.06,184.2L167.58,183.5L168.10,182.8L168.62,182.1L169.13,181.4L169.65,180.8L170.17,180.2L170.69,179.6L171.21,179.0L171.72,178.5L172.24,178.0L172.76,177.5L173.28,177.1L173.79,176.6L174.31,176.2L174.83,175.8L175.35,175.5L175.87,175.1L176.38,174.8L176.90,174.6L177.42,174.3L177.94,174.1L178.46,173.9L178.97,173.7L179.49,173.5L180.01,173.4L180.53,173.3L181.05,173.2L181.56,173.1L182.08,173.0L182.60,173.0L183.12,173.0L183.64,173.0L184.15,173.0L184.67,173.1L185.19,173.1L185.71,173.2L186.23,173.3L186.74,173.4L187.26,173.5L187.78,173.6L188.30,173.7L188.82,173.9L189.33,174.0L189.85,174.2L190.37,174.4L190.89,174.6L191.41,174.8L191.92,175.0L192.44,175.2L192.96,175.4L193.48,175.6L194.00,175.8L194.51,176.1L195.03,176.3L195.55,176.6L196.07,176.8L196.59,177.1L197.10,177.3L197.62,177.6L198.14,177.8L198.66,178.1L199.18,178.3L199.69,178.6L200.21,178.8L200.73,179.1L201.25,179.3L201.77,179.6L202.28,179.9L202.80,180.1L203.32,180.4L203.84,180.6L204.36,180.9L204.87,181.1L205.39,181.3L205.91,181.6L206.43,181.8L206.95,182.1L207.46,182.3L207.98,182.5L208.50,182.7L209.02,183.0L209.54,183.2L210.05,183.4L210.57,183.6L211.09,183.8L211.61,184.0L212.13,184.2L212.64,184.4L213.16,184.6L213.68,184.8L214.20,185.0L214.72,185.2L215.23,185.4L215.75,185.6L216.27,185.8L216.79,185.9L217.31,186.1L217.82,186.3L218.34,186.5L218.86,186.6L219.38,186.8L219.90,187.0L220.41,187.1L220.93,187.3L221.45,187.5L221.97,187.6L222.49,187.8L223.00,188.0L223.52,188.1L224.04,188.3L224.56,188.5L225.08,188.6L225.59,188.8L226.11,189.0L226.63,189.1L227.15,189.3L227.67,189.5L228.18,189.7L228.70,189.9L229.22,190.1L229.74,190.2L230.26,190.4L230.77,190.6L231.29,190.8L231.81,191.0L232.33,191.3L232.85,191.5L233.36,191.7L233.88,191.9L234.40,192.1L234.92,192.4L235.44,192.6L235.95,192.9L236.47,193.1L236.99,193.4L237.51,193.6L238.03,193.9L238.54,194.1L239.06,194.4L239.58,194.7L240.10,195.0L240.62,195.3L241.13,195.5L241.65,195.8L242.17,196.1L242.69,196.4L243.21,196.8L243.72,197.1L244.24,197.4L244.76,197.7L245.28,198.0L245.80,198.4L246.31,198.7L246.83,199.0L247.35,199.3L247.87,199.7L248.39,200.0L248.90,200.3L249.42,200.7L249.94,201.0L250.46,201.4L250.98,201.7L251.49,202.0L252.01,202.3L252.53,202.7L253.05,203.0L253.57,203.3L254.08,203.6L254.60,203.9L255.12,204.2L255.64,204.5L256.16,204.8L256.67,205.1L257.19,205.4L257.71,205.6L258.23,205.9L258.75,206.1L259.26,206.4L259.78,206.6L260.30,206.8L260.82,207.0L261.34,207.1L261.85,207.3L262.37,207.4L262.89,207.5L263.41,207.6L263.93,207.7L264.44,207.8L264.96,207.8L265.48,207.8L266.00,207.8L266.52,207.8L267.03,207.7L267.55,207.6L268.07,207.5L268.59,207.4L269.11,207.2L269.62,207.0L270.14,206.8L270.66,206.5L271.18,206.2L271.70,205.9L272.21,205.6L272.73,205.2L273.25,204.8L273.77,204.4L274.29,203.9L274.80,203.4L275.32,202.9L275.84,202.3L276.36,201.7L276.88,201.1L277.39,200.5L277.91,199.8L278.43,199.1L278.95,198.4L279.47,197.6L279.98,196.8L280.50,196.0L281.02,195.2L281.54,194.3L282.06,193.4L282.57,192.5L283.09,191.6L283.61,190.7L284.13,189.7L284.65,188.7L285.16,187.8L285.68,186.8L286.20,185.8L286.72,184.8L287.24,183.7L287.75,182.7L288.27,181.7L288.79,180.7L289.31,179.7L289.83,178.7L290.34,177.7L290.86,176.7L291.38,175.7L291.90,174.8L292.42,173.8L292.93,172.9L293.45,172.0L293.97,171.2L294.49,170.3L295.01,169.5L295.52,168.7L296.04,167.9L296.56,167.2L297.08,166.5L297.60,165.9L298.11,165.3L298.63,164.7L299.15,164.2L299.67,163.7L300.19,163.2L300.70,162.8L301.22,162.5L301.74,162.2L302.26,161.9L302.78,161.7L303.29,161.5L303.81,161.4L304.33,161.3L304.85,161.2L305.37,161.3L305.88,161.3L306.40,161.4L306.92,161.5L307.44,161.7L307.96,162.0L308.47,162.2L308.99,162.5L309.51,162.9L310.03,163.2L310.55,163.6L311.06,164.1L311.58,164.5L312.10,165.0L312.62,165.5L313.14,166.1L313.65,166.7L314.17,167.2L314.69,167.8L315.21,168.4L315.73,169.1L316.24,169.7L316.76,170.4L317.28,171.0L317.80,171.7L318.32,172.3L318.83,173.0L319.35,173.7L319.87,174.3L320.39,175.0L320.91,175.6L321.42,176.2L321.94,176.9L322.46,177.5L322.98,178.1L323.50,178.7L324.01,179.3L324.53,179.8L325.05,180.4L325.57,180.9L326.09,181.4L326.60,181.9L327.12,182.4L327.64,182.9L328.16,183.3L328.68,183.7L329.19,184.2L329.71,184.5L330.23,184.9L330.75,185.3L331.26,185.6L331.78,185.9L332.30,186.2L332.82,186.5L333.34,186.8L333.85,187.0L334.37,187.2L334.89,187.5L335.41,187.7L335.93,187.8L336.44,188.0L336.96,188.2L337.48,188.3L338.00,188.5L338.52,188.6L339.03,188.7L339.55,188.8L340.07,188.9L340.59,189.0L341.11,189.1L341.62,189.2L342.14,189.3L342.66,189.3L343.18,189.4L343.70,189.4L344.21,189.5L344.73,189.5L345.25,189.6L345.77,189.6L346.29,189.6L346.80,189.7L347.32,189.7L347.84,189.7L348.36,189.7L348.88,189.7L349.39,189.8L349.91,189.8L350.43,189.8L350.95,189.8L351.47,189.8L351.98,189.8L352.50,189.8L353.02,189.8L353.54,189.8L354.06,189.8L354.57,189.8L355.09,189.8L355.61,189.8L356.13,189.8L356.65,189.8L357.16,189.8L357.68,189.8L358.20,189.8L358.72,189.8L359.24,189.8L359.75,189.8L360.27,189.8L360.79,189.8L361.31,189.8L361.83,189.8L362.34,189.8L362.86,189.8L363.38,189.8L363.90,189.8L364.42,189.8L364.93,189.8L365.45,189.8L365.97,189.8L366.49,189.8L367.01,189.8L367.52,189.8L368.04,189.8L368.56,189.8L369.08,189.8L369.60,189.8L370.11,189.8L370.63,189.8L371.15,189.8L371.67,189.8L372.19,189.8L372.70,189.8L373.22,189.8L373.74,189.8L374.26,189.8L374.78,189.8L375.29,189.8L375.81,189.8L376.33,189.8L376.85,189.8L377.37,189.8L377.88,189.8L378.40,189.8L378.92,189.8L379.44,189.8L379.96,189.8L380.47,189.8L380.99,189.8L381.51,189.8L382.03,189.8L382.55,189.8L383.06,189.8L383.58,189.8L384.10,189.8L384.62,189.8L385.14,189.8L385.65,189.8L386.17,189.8L386.69,189.8L387.21,189.8L387.73,189.8L388.24,189.8L388.76,189.8L389.28,189.8L389.80,189.8L390.32,189.8L390.83,189.8L391.35,189.8L391.87,189.8L392.39,189.8L392.91,189.8L393.42,189.8L393.94,189.8L394.46,189.8L394.98,189.8L395.50,189.8L396.01,189.8L396.53,189.8L397.05,189.8L397.57,189.8L398.09,189.8L398.60,189.8L399.12,189.8L399.64,189.8L400.16,189.8L400.68,189.8L401.19,189.8L401.71,189.8L402.23,189.8L402.75,189.8"/>
<path d="M40.15,152.1L40.67,152.1L41.19,152.1L41.71,152.1L42.22,152.1L42.74,152.1L43.26,152.1L43.78,152.1L44.30,152.1L44.81,152.1L45.33,152.1L45.85,152.1L46.37,152.1L46.89,152.1L47.40,152.1L47.92,152.1L48.44,152.1L48.96,152.1L49.48,152.1L49.99,152.1L50.51,152.1L51.03,152.1L51.55,152.1L52.07,152.1L52.58,152.1L53.10,152.1L53.62,152.1L54.14,152.1L54.66,152.1L55.17,152.1L55.69,152.1L56.21,152.1L56.73,152.1L57.25,152.1L57.76,152.1L58.28,152.1L58.80,152.1L59.32,152.1L59.84,152.1L60.35,152.1L60.87,152.1L61.39,152.1L61.91,152.1L62.43,152.1L62.94,152.1L63.46,152.1L63.98,152.1L64.50,152.1L65.02,152.1L65.53,152.1L66.05,152.1L66.57,152.1L67.09,152.1L67.61,152.1L68.12,152.1L68.64,152.1L69.16,152.1L69.68,152.1L70.20,152.1L70.71,152.1L71.23,152.1L71.75,152.1L72.27,152.1L72.79,152.1L73.30,152.1L73.82,152.1L74.34,152.1L74.86,152.1L75.38,152.1L75.89,152.1L76.41,152.1L76.93,152.1L77.45,152.1L77.97,152.1L78.48,152.1L79.00,152.1L79.52,152.1L80.04,152.1L80.56,152.1L81.07,152.1L81.59,152.1L82.11,152.1L82.63,152.1L83.15,152.1L83.66,152.1L84.18,152.1L84.70,152.1L85.22,152.1L85.74,152.1L86.25,152.1L86.77,152.1L87.29,152.1L87.81,152.1L88.33,152.1L88.84,152.1L89.36,152.1L89.88,152.1L90.40,152.1L90.92,152.1L91.43,152.1L91.95,152.0L92.47,152.0L92.99,152.0L93.51,152.0L94.02,152.0L94.54,151.9L95.06,151.9L95.58,151.9L96.10,151.8L96.61,151.8L97.13,151.7L97.65,151.7L98.17,151.6L98.69,151.6L99.20,151.5L99.72,151.4L100.24,151.3L100.76,151.2L101.28,151.1L101.79,151.0L102.31,150.8L102.83,150.7L103.35,150.5L103.87,150.4L104.38,150.2L104.90,150.0L105.42,149.8L105.94,149.6L106.46,149.3L106.97,149.1L107.49,148.8L108.01,148.5L108.53,148.2L109.05,147.8L109.56,147.5L110.08,147.1L110.60,146.7L111.12,146.3L111.64,145.8L112.15,145.4L112.67,144.9L113.19,144.4L113.71,143.8L114.23,143.3L114.74,142.7L115.26,142.1L115.78,141.5L116.30,140.9L116.82,140.3L117.33,139.6L117.85,139.0L118.37,138.3L118.89,137.6L119.41,136.9L119.92,136.2L120.44,135.5L120.96,134.8L121.48,134.1L122.00,133.3L122.51,132.6L123.03,131.9L123.55,131.3L124.07,130.6L124.59,129.9L125.10,129.3L125.62,128.6L126.14,128.0L126.66,127.5L127.18,126.9L127.69,126.4L128.21,125.9L128.73,125.5L129.25,125.1L129.77,124.7L130.28,124.4L130.80,124.1L131.32,123.9L131.84,123.7L132.36,123.6L132.87,123.5L133.39,123.5L133.91,123.5L134.43,123.6L134.95,123.8L135.46,124.0L135.98,124.3L136.50,124.6L137.02,125.0L137.54,125.4L138.05,125.9L138.57,126.5L139.09,127.1L139.61,127.7L140.13,128.4L140.64,129.2L141.16,130.0L141.68,130.8L142.20,131.7L142.72,132.7L143.23,133.6L143.75,134.7L144.27,135.7L144.79,136.8L145.31,137.9L145.82,139.0L146.34,140.1L146.86,141.3L147.38,142.5L147.90,143.6L148.41,144.8L148.93,146.0L149.45,147.2L149.97,148.4L150.49,149.6L151.00,150.8L151.52,151.9L152.04,153.1L152.56,154.2L153.08,155.3L153.59,156.4L154.11,157.4L154.63,158.5L155.15,159.5L155.67,160.4L156.18,161.4L156.70,162.3L157.22,163.1L157.74,163.9L158.26,164.7L158.77,165.5L159.29,166.1L159.81,166.8L160.33,167.4L160.85,168.0L161.36,168.5L161.88,168.9L162.40,169.3L162.92,169.7L163.44,170.0L163.95,170.3L164.47,170.6L164.99,170.8L165.51,170.9L166.03,171.0L166.54,171.1L167.06,171.1L167.58,171.1L168.10,171.0L168.62,170.9L169.13,170.8L169.65,170.6L170.17,170.4L170.69,170.2L171.21,170.0L171.72,169.7L172.24,169.4L172.76,169.0L173.28,168.6L173.79,168.2L174.31,167.8L174.83,167.4L175.35,167.0L175.87,166.5L176.38,166.0L176.90,165.5L177.42,165.0L177.94,164.5L178.46,164.0L178.97,163.4L179.49,162.9L180.01,162.3L180.53,161.8L181.05,161.2L181.56,160.7L182.08,160.1L182.60,159.5L183.12,159.0L183.64,158.4L184.15,157.9L184.67,157.3L185.19,156.8L185.71,156.3L186.23,155.7L186.74,155.2L187.26,154.7L187.78,154.2L188.30,153.7L188.82,153.2L189.33,152.7L189.85,152.3L190.37,151.8L190.89,151.4L191.41,151.0L191.92,150.5L192.44,150.1L192.96,149.7L193.48,149.3L194.00,149.0L194.51,148.6L195.03,148.3L195.55,147.9L196.07,147.6L196.59,147.3L197.10,147.0L197.62,146.7L198.14,146.4L198.66,146.1L199.18,145.9L199.69,145.6L200.21,145.4L200.73,145.2L201.25,145.0L201.77,144.8L202.28,144.6L202.80,144.4L203.32,144.2L203.84,144.1L204.36,143.9L204.87,143.8L205.39,143.6L205.91,143.5L206.43,143.4L206.95,143.3L207.46,143.2L207.98,143.1L208.50,143.0L209.02,142.9L209.54,142.8L210.05,142.7L210.57,142.6L211.09,142.6L211.61,142.5L212.13,142.5L212.64,142.4L213.16,142.3L213.68,142.3L214.20,142.2L214.72,142.2L215.23,142.1L215.75,142.1L216.27,142.1L216.79,142.0L217.31,142.0L217.82,141.9L218.34,141.9L218.86,141.9L219.38,141.8L219.90,141.8L220.41,141.7L220.93,141.7L221.45,141.7L221.97,141.6L222.49,141.6L223.00,141.5L223.52,141.5L224.04,141.4L224.56,141.4L225.08,141.3L225.59,141.3L226.11,141.3L226.63,141.2L227.15,141.2L227.67,141.1L228.18,141.1L228.70,141.0L229.22,141.0L229.74,140.9L230.26,140.9L230.77,140.8L231.29,140.8L231.81,140.8L232.33,140.7L232.85,140.7L233.36,140.7L233.88,140.6L234.40,140.6L234.92,140.6L235.44,140.6L235.95,140.6L236.47,140.6L236.99,140.6L237.51,140.6L238.03,140.6L238.54,140.6L239.06,140.6L239.58,140.7L240.10,140.7L240.62,140.8L241.13,140.8L241.65,140.9L242.17,141.0L242.69,141.1L243.21,141.2L243.72,141.3L244.24,141.4L244.76,141.5L245.28,141.7L245.80,141.9L246.31,142.0L246.83,142.2L247.35,142.4L247.87,142.6L248.39,142.8L248.90,143.1L249.42,143.3L249.94,143.6L250.46,143.9L250.98,144.2L251.49,144.5L252.01,144.9L252.53,145.2L253.05,145.6L253.57,146.0L254.08,146.4L254.60,146.8L255.12,147.2L255.64,147.6L256.16,148.1L256.67,148.6L257.19,149.1L257.71,149.6L258.23,150.1L258.75,150.6L259.26,151.2L259.78,151.7L260.30,152.3L260.82,152.9L261.34,153.5L261.85,154.1L262.37,154.7L262.89,155.4L263.41,156.0L263.93,156.6L264.44,157.3L264.96,157.9L265.48,158.6L266.00,159.3L266.52,159.9L267.03,160.6L267.55,161.2L268.07,161.9L268.59,162.5L269.11,163.2L269.62,163.8L270.14,164.4L270.66,165.0L271.18,165.6L271.70,166.2L272.21,166.8L272.73,167.3L273.25,167.9L273.77,168.3L274.29,168.8L274.80,169.3L275.32,169.7L275.84,170.1L276.36,170.4L276.88,170.7L277.39,171.0L277.91,171.3L278.43,171.5L278.95,171.6L279.47,171.7L279.98,171.8L280.50,171.8L281.02,171.8L281.54,171.8L282.06,171.6L282.57,171.5L283.09,171.2L283.61,171.0L284.13,170.6L284.65,170.3L285.16,169.8L285.68,169.3L286.20,168.8L286.72,168.2L287.24,167.6L287.75,166.9L288.27,166.1L288.79,165.3L289.31,164.5L289.83,163.6L290.34,162.7L290.86,161.7L291.38,160.7L291.90,159.6L292.42,158.5L292.93,157.4L293.45,156.2L293.97,155.0L294.49,153.8L295.01,152.6L295.52,151.4L296.04,150.1L296.56,148.8L297.08,147.6L297.60,146.3L298.11,145.0L298.63,143.7L299.15,142.5L299.67,141.2L300.19,140.0L300.70,138.8L301.22,137.6L301.74,136.4L302.26,135.3L302.78,134.2L303.29,133.1L303.81,132.1L304.33,131.1L304.85,130.2L305.37,129.3L305.88,128.4L306.40,127.7L306.92,126.9L307.44,126.3L307.96,125.7L308.47,125.1L308.99,124.6L309.51,124.2L310.03,123.9L310.55,123.6L311.06,123.3L311.58,123.2L312.10,123.1L312.62,123.0L313.14,123.0L313.65,123.1L314.17,123.2L314.69,123.4L315.21,123.7L315.73,124.0L316.24,124.3L316.76,124.7L317.28,125.1L317.80,125.6L318.32,126.1L318.83,126.7L319.35,127.3L319.87,127.9L320.39,128.5L320.91,129.2L321.42,129.9L321.94,130.6L322.46,131.3L322.98,132.0L323.50,132.7L324.01,133.5L324.53,134.2L325.05,135.0L325.57,135.7L326.09,136.4L326.60,137.2L327.12,137.9L327.64,138.6L328.16,139.3L328.68,140.0L329.19,140.6L329.71,141.3L330.23,141.9L330.75,142.5L331.26,143.1L331.78,143.7L332.30,144.2L332.82,144.8L333.34,145.3L333.85,145.7L334.37,146.2L334.89,146.6L335.41,147.1L335.93,147.4L336.44,147.8L336.96,148.2L337.48,148.5L338.00,148.8L338.52,149.1L339.03,149.3L339.55,149.6L340.07,149.8L340.59,150.0L341.11,150.2L341.62,150.4L342.14,150.6L342.66,150.7L343.18,150.9L343.70,151.0L344.21,151.1L344.73,151.2L345.25,151.3L345.77,151.4L346.29,151.5L346.80,151.6L347.32,151.6L347.84,151.7L348.36,151.8L348.88,151.8L349.39,151.8L349.91,151.9L350.43,151.9L350.95,151.9L351.47,152.0L351.98,152.0L352.50,152.0L353.02,152.0L353.54,152.1L354.06,152.1L354.57,152.1L355.09,152.1L355.61,152.1L356.13,152.1L356.65,152.1L357.16,152.1L357.68,152.1L358.20,152.1L358.72,152.1L359.24,152.1L359.75,152.1L360.27,152.1L360.79,152.1L361.31,152.1L361.83,152.1L362.34,152.1L362.86,152.1L363.38,152.1L363.90,152.1L364.42,152.1L364.93,152.1L365.45,152.1L365.97,152.1L366.49,152.1L367.01,152.1L367.52,152.1L368.04,152.1L368.56,152.1L369.08,152.1L369.60,152.1L370.11,152.1L370.63,152.1L371.15,152.1L371.67,152.1L372.19,152.1L372.70,152.1L373.22,152.1L373.74,152.1L374.26,152.1L374.78,152.1L375.29,152.1L375.81,152.1L376.33,152.1L376.85,152.1L377.37,152.1L377.88,152.1L378.40,152.1L378.92,152.1L379.44,152.1L379.96,152.1L380.47,152.1L380.99,152.1L381.51,152.1L382.03,152.1L382.55,152.1L383.06,152.1L383.58,152.1L384.10,152.1L384.62,152.1L385.14,152.1L385.65,152.1L386.17,152.1L386.69,152.1L387.21,152.1L387.73,152.1L388.24,152.1L388.76,152.1L389.28,152.1L389.80,152.1L390.32,152.1L390.83,152.1L391.35,152.1L391.87,152.1L392.39,152.1L392.91,152.1L393.42,152.1L393.94,152.1L394.46,152.1L394.98,152.1L395.50,152.1L396.01,152.1L396.53,152.1L397.05,152.1L397.57,152.1L398.09,152.1L398.60,152.1L399.12,152.1L399.64,152.1L400.16,152.1L400.68,152.1L401.19,152.1L401.71,152.1L402.23,152.1L402.75,152.1"/>
<path d="M40.15,114.5L40.67,114.5L41.19,114.5L41.71,114.5L42.22,114.5L42.74,114.5L43.26,114.5L43.78,114.5L44.30,114.5L44.81,114.5L45.33,114.5L45.85,114.5L46.37,114.5L46.89,114.5L47.40,114.5L47.92,114.5L48.44,114.5L48.96,114.5L49.48,114.5L49.99,114.5L50.51,114.5L51.03,114.5L51.55,114.5L52.07,114.5L52.58,114.5L53.10,114.5L53.62,114.5L54.14,114.5L54.66,114.5L55.17,114.5L55.69,114.5L56.21,114.5L56.73,114.5L57.25,114.5L57.76,114.5L58.28,114.5L58.80,114.5L59.32,114.5L59.84,114.5L60.35,114.5L60.87,114.5L61.39,114.5L61.91,114.5L62.43,114.5L62.94,114.5L63.46,114.5L63.98,114.5L64.50,114.5L65.02,114.5L65.53,114.5L66.05,114.5L66.57,114.5L67.09,114.5L67.61,114.5L68.12,114.5L68.64,114.5L69.16,114.5L69.68,114.5L70.20,114.5L70.71,114.5L71.23,114.5L71.75,114.5L72.27,114.5L72.79,114.5L73.30,114.5L73.82,114.5L74.34,114.5L74.86,114.5L75.38,114.5L75.89,114.5L76.41,114.5L76.93,114.5L77.45,114.5L77.97,114.5L78.48,114.5L79.00,114.5L79.52,114.5L80.04,114.5L80.56,114.5L81.07,114.5L81.59,114.5L82.11,114.5L82.63,114.5L83.15,114.5L83.66,114.5L84.18,114.5L84.70,114.5L85.22,114.5L85.74,114.5L86.25,114.5L86.77,114.5L87.29,114.5L87.81,114.5L88.33,114.6L88.84,114.6L89.36,114.6L89.88,114.6L90.40,114.7L90.92,114.7L91.43,114.7L91.95,114.8L92.47,114.8L92.99,114.8L93.51,114.9L94.02,115.0L94.54,115.0L95.06,115.1L95.58,115.2L96.10,115.3L96.61,115.4L97.13,115.5L97.65,115.7L98.17,115.8L98.69,116.0L99.20,116.1L99.72,116.3L100.24,116.5L100.76,116.7L101.28,117.0L101.79,117.2L102.31,117.5L102.83,117.8L103.35,118.1L103.87,118.5L104.38,118.8L104.90,119.2L105.42,119.6L105.94,120.1L106.46,120.5L106.97,121.0L107.49,121.5L108.01,122.0L108.53,122.6L109.05,123.2L109.56,123.8L110.08,124.4L110.60,125.1L111.12,125.8L111.64,126.5L112.15,127.2L112.67,127.9L113.19,128.7L113.71,129.4L114.23,130.2L114.74,131.0L115.26,131.8L115.78,132.5L116.30,133.3L116.82,134.1L117.33,134.9L117.85,135.7L118.37,136.4L118.89,137.1L119.41,137.8L119.92,138.5L120.44,139.2L120.96,139.8L121.48,140.4L122.00,141.0L122.51,141.5L123.03,141.9L123.55,142.3L124.07,142.7L124.59,143.0L125.10,143.2L125.62,143.4L126.14,143.5L126.66,143.5L127.18,143.5L127.69,143.4L128.21,143.2L128.73,143.0L129.25,142.7L129.77,142.3L130.28,141.8L130.80,141.3L131.32,140.7L131.84,140.0L132.36,139.2L132.87,138.4L133.39,137.5L133.91,136.6L134.43,135.5L134.95,134.5L135.46,133.3L135.98,132.2L136.50,130.9L137.02,129.7L137.54,128.4L138.05,127.0L138.57,125.7L139.09,124.3L139.61,122.9L140.13,121.5L140.64,120.1L141.16,118.6L141.68,117.2L142.20,115.8L142.72,114.4L143.23,113.0L143.75,111.6L144.27,110.3L144.79,109.0L145.31,107.7L145.82,106.5L146.34,105.3L146.86,104.2L147.38,103.1L147.90,102.0L148.41,101.1L148.93,100.2L149.45,99.3L149.97,98.5L150.49,97.8L151.00,97.1L151.52,96.5L152.04,96.0L152.56,95.6L153.08,95.2L153.59,94.9L154.11,94.7L154.63,94.5L155.15,94.4L155.67,94.3L156.18,94.4L156.70,94.5L157.22,94.6L157.74,94.8L158.26,95.1L158.77,95.5L159.29,95.8L159.81,96.3L160.33,96.8L160.85,97.3L161.36,97.9L161.88,98.5L162.40,99.1L162.92,99.8L163.44,100.5L163.95,101.3L164.47,102.1L164.99,102.9L165.51,103.7L166.03,104.5L166.54,105.3L167.06,106.2L167.58,107.0L168.10,107.9L168.62,108.8L169.13,109.6L169.65,110.5L170.17,111.3L170.69,112.2L171.21,113.0L171.72,113.8L172.24,114.7L172.76,115.5L173.28,116.2L173.79,117.0L174.31,117.8L174.83,118.5L175.35,119.2L175.87,119.9L176.38,120.5L176.90,121.1L177.42,121.7L177.94,122.3L178.46,122.9L178.97,123.4L179.49,123.9L180.01,124.4L180.53,124.8L181.05,125.2L181.56,125.6L182.08,126.0L182.60,126.3L183.12,126.6L183.64,126.9L184.15,127.1L184.67,127.4L185.19,127.6L185.71,127.8L186.23,127.9L186.74,128.0L187.26,128.2L187.78,128.2L188.30,128.3L188.82,128.4L189.33,128.4L189.85,128.4L190.37,128.4L190.89,128.4L191.41,128.3L191.92,128.3L192.44,128.2L192.96,128.1L193.48,128.0L194.00,127.9L194.51,127.7L195.03,127.6L195.55,127.5L196.07,127.3L196.59,127.1L197.10,127.0L197.62,126.8L198.14,126.6L198.66,126.4L199.18,126.2L199.69,126.0L200.21,125.8L200.73,125.5L201.25,125.3L201.77,125.1L202.28,124.9L202.80,124.6L203.32,124.4L203.84,124.2L204.36,124.0L204.87,123.7L205.39,123.5L205.91,123.3L206.43,123.0L206.95,122.8L207.46,122.6L207.98,122.3L208.50,122.1L209.02,121.9L209.54,121.7L210.05,121.4L210.57,121.2L211.09,121.0L211.61,120.8L212.13,120.6L212.64,120.4L213.16,120.2L213.68,120.0L214.20,119.8L214.72,119.6L215.23,119.4L215.75,119.2L216.27,119.0L216.79,118.8L217.31,118.6L217.82,118.4L218.34,118.2L218.86,118.0L219.38,117.8L219.90,117.7L220.41,117.5L220.93,117.3L221.45,117.1L221.97,116.9L222.49,116.7L223.00,116.6L223.52,116.4L224.04,116.2L224.56,116.0L225.08,115.8L225.59,115.6L226.11,115.4L226.63,115.2L227.15,115.0L227.67,114.8L228.18,114.6L228.70,114.4L229.22,114.2L229.74,114.0L230.26,113.8L230.77,113.6L231.29,113.3L231.81,113.1L232.33,112.9L232.85,112.6L233.36,112.4L233.88,112.2L234.40,111.9L234.92,111.6L235.44,111.4L235.95,111.1L236.47,110.8L236.99,110.6L237.51,110.3L238.03,110.0L238.54,109.7L239.06,109.4L239.58,109.1L240.10,108.8L240.62,108.5L241.13,108.2L241.65,107.9L242.17,107.6L242.69,107.2L243.21,106.9L243.72,106.6L244.24,106.3L244.76,106.0L245.28,105.6L245.80,105.3L246.31,105.0L246.83,104.7L247.35,104.3L247.87,104.0L248.39,103.7L248.90,103.4L249.42,103.1L249.94,102.8L250.46,102.5L250.98,102.2L251.49,101.9L252.01,101.7L252.53,101.4L253.05,101.1L253.57,100.9L254.08,100.7L254.60,100.5L255.12,100.3L255.64,100.1L256.16,99.9L256.67,99.8L257.19,99.7L257.71,99.6L258.23,99.5L258.75,99.4L259.26,99.4L259.78,99.4L260.30,99.4L260.82,99.4L261.34,99.5L261.85,99.6L262.37,99.7L262.89,99.8L263.41,100.0L263.93,100.2L264.44,100.5L264.96,100.8L265.48,101.1L266.00,101.4L266.52,101.8L267.03,102.2L267.55,102.6L268.07,103.1L268.59,103.6L269.11,104.2L269.62,104.8L270.14,105.4L270.66,106.0L271.18,106.7L271.70,107.4L272.21,108.2L272.73,108.9L273.25,109.7L273.77,110.6L274.29,111.4L274.80,112.3L275.32,113.2L275.84,114.1L276.36,115.0L276.88,115.9L277.39,116.9L277.91,117.9L278.43,118.8L278.95,119.8L279.47,120.8L279.98,121.7L280.50,122.7L281.02,123.6L281.54,124.6L282.06,125.5L282.57,126.4L283.09,127.3L283.61,128.1L284.13,128.9L284.65,129.7L285.16,130.5L285.68,131.2L286.20,131.8L286.72,132.4L287.24,133.0L287.75,133.5L288.27,133.9L288.79,134.3L289.31,134.6L289.83,134.8L290.34,135.0L290.86,135.1L291.38,135.1L291.90,135.1L292.42,135.0L292.93,134.7L293.45,134.5L293.97,134.1L294.49,133.7L295.01,133.1L295.52,132.5L296.04,131.9L296.56,131.1L297.08,130.3L297.60,129.4L298.11,128.4L298.63,127.4L299.15,126.3L299.67,125.1L300.19,123.9L300.70,122.7L301.22,121.3L301.74,120.0L302.26,118.6L302.78,117.2L303.29,115.7L303.81,114.2L304.33,112.7L304.85,111.2L305.37,109.7L305.88,108.2L306.40,106.7L306.92,105.2L307.44,103.7L307.96,102.3L308.47,100.9L308.99,99.5L309.51,98.1L310.03,96.8L310.55,95.6L311.06,94.4L311.58,93.2L312.10,92.2L312.62,91.1L313.14,90.2L313.65,89.3L314.17,88.5L314.69,87.8L315.21,87.2L315.73,86.6L316.24,86.1L316.76,85.7L317.28,85.4L317.80,85.2L318.32,85.0L318.83,84.9L319.35,84.9L319.87,85.0L320.39,85.1L320.91,85.3L321.42,85.6L321.94,86.0L322.46,86.4L322.98,86.8L323.50,87.3L324.01,87.9L324.53,88.5L325.05,89.1L325.57,89.8L326.09,90.5L326.60,91.2L327.12,92.0L327.64,92.8L328.16,93.6L328.68,94.4L329.19,95.2L329.71,96.0L330.23,96.8L330.75,97.6L331.26,98.4L331.78,99.2L332.30,100.0L332.82,100.8L333.34,101.6L333.85,102.3L334.37,103.0L334.89,103.7L335.41,104.4L335.93,105.0L336.44,105.7L336.96,106.3L337.48,106.9L338.00,107.4L338.52,107.9L339.03,108.4L339.55,108.9L340.07,109.3L340.59,109.8L341.11,110.2L341.62,110.5L342.14,110.9L342.66,111.2L343.18,111.5L343.70,111.8L344.21,112.0L344.73,112.3L345.25,112.5L345.77,112.7L346.29,112.9L346.80,113.0L347.32,113.2L347.84,113.3L348.36,113.4L348.88,113.5L349.39,113.7L349.91,113.7L350.43,113.8L350.95,113.9L351.47,114.0L351.98,114.0L352.50,114.1L353.02,114.1L353.54,114.2L354.06,114.2L354.57,114.2L355.09,114.3L355.61,114.3L356.13,114.3L356.65,114.3L357.16,114.4L357.68,114.4L358.20,114.4L358.72,114.4L359.24,114.4L359.75,114.4L360.27,114.4L360.79,114.4L361.31,114.4L361.83,114.4L362.34,114.4L362.86,114.4L363.38,114.4L363.90,114.4L364.42,114.4L364.93,114.4L365.45,114.4L365.97,114.4L366.49,114.4L367.01,114.4L367.52,114.4L368.04,114.4L368.56,114.4L369.08,114.4L369.60,114.4L370.11,114.4L370.63,114.4L371.15,114.4L371.67,114.4L372.19,114.4L372.70,114.4L373.22,114.4L373.74,114.4L374.26,114.4L374.78,114.4L375.29,114.4L375.81,114.4L376.33,114.4L376.85,114.4L377.37,114.4L377.88,114.4L378.40,114.4L378.92,114.4L379.44,114.4L379.96,114.4L380.47,114.4L380.99,114.4L381.51,114.4L382.03,114.4L382.55,114.4L383.06,114.4L383.58,114.4L384.10,114.4L384.62,114.4L385.14,114.4L385.65,114.4L386.17,114.4L386.69,114.4L387.21,114.4L387.73,114.4L388.24,114.4L388.76,114.4L389.28,114.4L389.80,114.4L390.32,114.4L390.83,114.4L391.35,114.4L391.87,114.4L392.39,114.4L392.91,114.4L393.42,114.4L393.94,114.4L394.46,114.4L394.98,114.4L395.50,114.4L396.01,114.4L396.53,114.4L397.05,114.4L397.57,114.4L398.09,114.4L398.60,114.4L399.12,114.4L399.64,114.4L400.16,114.4L400.68,114.4L401.19,114.4L401.71,114.4L402.23,114.4L402.75,114.4"/>
<path d="M40.15,76.7L40.67,76.7L41.19,76.7L41.71,76.7L42.22,76.7L42.74,76.7L43.26,76.7L43.78,76.7L44.30,76.7L44.81,76.7L45.33,76.7L45.85,76.7L46.37,76.7L46.89,76.7L47.40,76.7L47.92,76.7L48.44,76.7L48.96,76.7L49.48,76.7L49.99,76.7L50.51,76.7L51.03,76.7L51.55,76.7L52.07,76.7L52.58,76.7L53.10,76.7L53.62,76.7L54.14,76.7L54.66,76.7L55.17,76.7L55.69,76.7L56.21,76.7L56.73,76.7L57.25,76.7L57.76,76.7L58.28,76.7L58.80,76.7L59.32,76.7L59.84,76.7L60.35,76.7L60.87,76.7L61.39,76.7L61.91,76.7L62.43,76.7L62.94,76.7L63.46,76.7L63.98,76.7L64.50,76.7L65.02,76.7L65.53,76.7L66.05,76.7L66.57,76.7L67.09,76.7L67.61,76.7L68.12,76.7L68.64,76.7L69.16,76.7L69.68,76.7L70.20,76.7L70.71,76.7L71.23,76.7L71.75,76.7L72.27,76.7L72.79,76.7L73.30,76.7L73.82,76.7L74.34,76.7L74.86,76.7L75.38,76.7L75.89,76.7L76.41,76.7L76.93,76.7L77.45,76.7L77.97,76.7L78.48,76.7L79.00,76.7L79.52,76.7L80.04,76.7L80.56,76.7L81.07,76.7L81.59,76.7L82.11,76.7L82.63,76.7L83.15,76.7L83.66,76.7L84.18,76.7L84.70,76.6L85.22,76.6L85.74,76.6L86.25,76.6L86.77,76.6L87.29,76.5L87.81,76.5L88.33,76.5L88.84,76.4L89.36,76.4L89.88,76.3L90.40,76.2L90.92,76.2L91.43,76.1L91.95,76.0L92.47,75.9L92.99,75.8L93.51,75.6L94.02,75.5L94.54,75.3L95.06,75.2L95.58,75.0L96.10,74.8L96.61,74.6L97.13,74.3L97.65,74.0L98.17,73.8L98.69,73.4L99.20,73.1L99.72,72.7L100.24,72.4L100.76,71.9L101.28,71.5L101.79,71.0L102.31,70.5L102.83,70.0L103.35,69.4L103.87,68.9L104.38,68.2L104.90,67.6L105.42,66.9L105.94,66.2L106.46,65.5L106.97,64.8L107.49,64.0L108.01,63.2L108.53,62.4L109.05,61.6L109.56,60.7L110.08,59.9L110.60,59.1L111.12,58.2L111.64,57.3L112.15,56.5L112.67,55.7L113.19,54.8L113.71,54.0L114.23,53.2L114.74,52.5L115.26,51.8L115.78,51.1L116.30,50.4L116.82,49.8L117.33,49.3L117.85,48.8L118.37,48.4L118.89,48.0L119.41,47.7L119.92,47.5L120.44,47.4L120.96,47.3L121.48,47.3L122.00,47.4L122.51,47.6L123.03,47.9L123.55,48.3L124.07,48.8L124.59,49.3L125.10,50.0L125.62,50.7L126.14,51.5L126.66,52.5L127.18,53.5L127.69,54.5L128.21,55.7L128.73,56.9L129.25,58.2L129.77,59.6L130.28,61.0L130.80,62.4L131.32,63.9L131.84,65.5L132.36,67.1L132.87,68.7L133.39,70.3L133.91,71.9L134.43,73.6L134.95,75.2L135.46,76.8L135.98,78.4L136.50,80.0L137.02,81.5L137.54,83.0L138.05,84.5L138.57,85.9L139.09,87.2L139.61,88.5L140.13,89.7L140.64,90.9L141.16,91.9L141.68,92.9L142.20,93.8L142.72,94.6L143.23,95.3L143.75,95.9L144.27,96.5L144.79,96.9L145.31,97.2L145.82,97.4L146.34,97.6L146.86,97.6L147.38,97.6L147.90,97.4L148.41,97.2L148.93,96.9L149.45,96.4L149.97,96.0L150.49,95.4L151.00,94.8L151.52,94.1L152.04,93.3L152.56,92.5L153.08,91.6L153.59,90.7L154.11,89.7L154.63,88.7L155.15,87.6L155.67,86.6L156.18,85.5L156.70,84.3L157.22,83.2L157.74,82.1L158.26,80.9L158.77,79.8L159.29,78.7L159.81,77.5L160.33,76.4L160.85,75.3L161.36,74.3L161.88,73.2L162.40,72.2L162.92,71.2L163.44,70.2L163.95,69.3L164.47,68.5L164.99,67.6L165.51,66.8L166.03,66.1L166.54,65.4L167.06,64.7L167.58,64.1L168.10,63.6L168.62,63.1L169.13,62.6L169.65,62.2L170.17,61.9L170.69,61.6L171.21,61.3L171.72,61.1L172.24,60.9L172.76,60.8L173.28,60.7L173.79,60.7L174.31,60.7L174.83,60.8L175.35,60.9L175.87,61.0L176.38,61.2L176.90,61.4L177.42,61.6L177.94,61.9L178.46,62.1L178.97,62.5L179.49,62.8L180.01,63.2L180.53,63.6L181.05,64.0L181.56,64.4L182.08,64.8L182.60,65.3L183.12,65.8L183.64,66.3L184.15,66.7L184.67,67.2L185.19,67.8L185.71,68.3L186.23,68.8L186.74,69.3L187.26,69.8L187.78,70.3L188.30,70.8L188.82,71.4L189.33,71.9L189.85,72.4L190.37,72.9L190.89,73.4L191.41,73.9L191.92,74.3L192.44,74.8L192.96,75.3L193.48,75.7L194.00,76.2L194.51,76.6L195.03,77.0L195.55,77.5L196.07,77.9L196.59,78.2L197.10,78.6L197.62,79.0L198.14,79.4L198.66,79.7L199.18,80.0L199.69,80.3L200.21,80.7L200.73,81.0L201.25,81.2L201.77,81.5L202.28,81.8L202.80,82.0L203.32,82.3L203.84,82.5L204.36,82.7L204.87,82.9L205.39,83.1L205.91,83.3L206.43,83.5L206.95,83.7L207.46,83.8L207.98,84.0L208.50,84.1L209.02,84.3L209.54,84.4L210.05,84.5L210.57,84.6L211.09,84.8L211.61,84.9L212.13,85.0L212.64,85.1L213.16,85.1L213.68,85.2L214.20,85.3L214.72,85.4L215.23,85.5L215.75,85.5L216.27,85.6L216.79,85.7L217.31,85.7L217.82,85.8L218.34,85.9L218.86,85.9L219.38,86.0L219.90,86.0L220.41,86.1L220.93,86.2L221.45,86.2L221.97,86.3L222.49,86.3L223.00,86.4L223.52,86.4L224.04,86.5L224.56,86.5L225.08,86.6L225.59,86.6L226.11,86.7L226.63,86.7L227.15,86.8L227.67,86.8L228.18,86.9L228.70,86.9L229.22,87.0L229.74,87.0L230.26,87.0L230.77,87.1L231.29,87.1L231.81,87.1L232.33,87.1L232.85,87.2L233.36,87.2L233.88,87.2L234.40,87.2L234.92,87.2L235.44,87.2L235.95,87.2L236.47,87.1L236.99,87.1L237.51,87.1L238.03,87.0L238.54,86.9L239.06,86.9L239.58,86.8L240.10,86.7L240.62,86.6L241.13,86.5L241.65,86.4L242.17,86.2L242.69,86.1L243.21,85.9L243.72,85.7L244.24,85.6L244.76,85.4L245.28,85.1L245.80,84.9L246.31,84.7L246.83,84.4L247.35,84.1L247.87,83.8L248.39,83.5L248.90,83.2L249.42,82.8L249.94,82.4L250.46,82.1L250.98,81.7L251.49,81.3L252.01,80.8L252.53,80.4L253.05,79.9L253.57,79.4L254.08,78.9L254.60,78.4L255.12,77.9L255.64,77.4L256.16,76.8L256.67,76.2L257.19,75.7L257.71,75.1L258.23,74.5L258.75,73.9L259.26,73.2L259.78,72.6L260.30,72.0L260.82,71.4L261.34,70.7L261.85,70.1L262.37,69.5L262.89,68.8L263.41,68.2L263.93,67.6L264.44,67.0L264.96,66.4L265.48,65.8L266.00,65.2L266.52,64.7L267.03,64.1L267.55,63.6L268.07,63.1L268.59,62.7L269.11,62.2L269.62,61.8L270.14,61.4L270.66,61.1L271.18,60.8L271.70,60.6L272.21,60.3L272.73,60.2L273.25,60.0L273.77,60.0L274.29,59.9L274.80,60.0L275.32,60.0L275.84,60.2L276.36,60.4L276.88,60.6L277.39,60.9L277.91,61.3L278.43,61.7L278.95,62.2L279.47,62.8L279.98,63.4L280.50,64.0L281.02,64.7L281.54,65.5L282.06,66.3L282.57,67.2L283.09,68.1L283.61,69.1L284.13,70.1L284.65,71.2L285.16,72.3L285.68,73.4L286.20,74.6L286.72,75.8L287.24,77.0L287.75,78.2L288.27,79.5L288.79,80.7L289.31,82.0L289.83,83.2L290.34,84.5L290.86,85.7L291.38,86.9L291.90,88.0L292.42,89.2L292.93,90.2L293.45,91.3L293.97,92.3L294.49,93.2L295.01,94.1L295.52,94.8L296.04,95.6L296.56,96.2L297.08,96.7L297.60,97.2L298.11,97.6L298.63,97.8L299.15,98.0L299.67,98.1L300.19,98.0L300.70,97.9L301.22,97.7L301.74,97.3L302.26,96.8L302.78,96.3L303.29,95.6L303.81,94.8L304.33,93.9L304.85,93.0L305.37,91.9L305.88,90.7L306.40,89.5L306.92,88.2L307.44,86.8L307.96,85.3L308.47,83.8L308.99,82.2L309.51,80.6L310.03,79.0L310.55,77.3L311.06,75.6L311.58,73.9L312.10,72.2L312.62,70.4L313.14,68.7L313.65,67.0L314.17,65.4L314.69,63.8L315.21,62.2L315.73,60.6L316.24,59.2L316.76,57.8L317.28,56.4L317.80,55.1L318.32,54.0L318.83,52.9L319.35,51.8L319.87,50.9L320.39,50.1L320.91,49.3L321.42,48.7L321.94,48.2L322.46,47.7L322.98,47.4L323.50,47.1L324.01,47.0L324.53,46.9L325.05,46.9L325.57,47.1L326.09,47.3L326.60,47.5L327.12,47.9L327.64,48.3L328.16,48.8L328.68,49.4L329.19,50.0L329.71,50.6L330.23,51.3L330.75,52.1L331.26,52.9L331.78,53.7L332.30,54.5L332.82,55.4L333.34,56.2L333.85,57.1L334.37,58.0L334.89,58.9L335.41,59.8L335.93,60.6L336.44,61.5L336.96,62.4L337.48,63.2L338.00,64.0L338.52,64.8L339.03,65.6L339.55,66.3L340.07,67.0L340.59,67.7L341.11,68.4L341.62,69.0L342.14,69.6L342.66,70.1L343.18,70.7L343.70,71.2L344.21,71.6L344.73,72.1L345.25,72.5L345.77,72.9L346.29,73.2L346.80,73.6L347.32,73.9L347.84,74.2L348.36,74.4L348.88,74.7L349.39,74.9L349.91,75.1L350.43,75.3L350.95,75.4L351.47,75.6L351.98,75.7L352.50,75.8L353.02,75.9L353.54,76.0L354.06,76.1L354.57,76.2L355.09,76.3L355.61,76.3L356.13,76.4L356.65,76.4L357.16,76.5L357.68,76.5L358.20,76.6L358.72,76.6L359.24,76.6L359.75,76.6L360.27,76.6L360.79,76.7L361.31,76.7L361.83,76.7L362.34,76.7L362.86,76.7L363.38,76.7L363.90,76.7L364.42,76.7L364.93,76.7L365.45,76.7L365.97,76.7L366.49,76.7L367.01,76.7L367.52,76.7L368.04,76.7L368.56,76.7L369.08,76.7L369.60,76.7L370.11,76.7L370.63,76.7L371.15,76.7L371.67,76.7L372.19,76.7L372.70,76.7L373.22,76.7L373.74,76.7L374.26,76.7L374.78,76.7L375.29,76.7L375.81,76.7L376.33,76.7L376.85,76.7L377.37,76.7L377.88,76.7L378.40,76.7L378.92,76.7L379.44,76.7L379.96,76.7L380.47,76.7L380.99,76.7L381.51,76.7L382.03,76.7L382.55,76.7L383.06,76.7L383.58,76.7L384.10,76.7L384.62,76.7L385.14,76.7L385.65,76.7L386.17,76.7L386.69,76.7L387.21,76.7L387.73,76.7L388.24,76.7L388.76,76.7L389.28,76.7L389.80,76.7L390.32,76.7L390.83,76.7L391.35,76.7L391.87,76.7L392.39,76.7L392.91,76.7L393.42,76.7L393.94,76.7L394.46,76.7L394.98,76.7L395.50,76.7L396.01,76.7L396.53,76.7L397.05,76.7L397.57,76.7L398.09,76.7L398.60,76.7L399.12,76.7L399.64,76.7L400.16,76.7L400.68,76.7L401.19,76.7L401.71,76.7L402.23,76.7L402.75,76.7"/>
<path d="M40.15,39.1L40.67,39.1L41.19,39.1L41.71,39.1L42.22,39.1L42.74,39.1L43.26,39.1L43.78,39.1L44.30,39.1L44.81,39.1L45.33,39.1L45.85,39.1L46.37,39.1L46.89,39.1L47.40,39.1L47.92,39.1L48.44,39.1L48.96,39.1L49.48,39.1L49.99,39.1L50.51,39.1L51.03,39.1L51.55,39.1L52.07,39.1L52.58,39.1L53.10,39.1L53.62,39.1L54.14,39.1L54.66,39.1L55.17,39.1L55.69,39.1L56.21,39.1L56.73,39.1L57.25,39.1L57.76,39.1L58.28,39.1L58.80,39.1L59.32,39.1L59.84,39.1L60.35,39.1L60.87,39.1L61.39,39.1L61.91,39.1L62.43,39.1L62.94,39.1L63.46,39.1L63.98,39.1L64.50,39.1L65.02,39.1L65.53,39.1L66.05,39.1L66.57,39.1L67.09,39.1L67.61,39.1L68.12,39.1L68.64,39.1L69.16,39.1L69.68,39.1L70.20,39.1L70.71,39.1L71.23,39.1L71.75,39.1L72.27,39.1L72.79,39.1L73.30,39.1L73.82,39.1L74.34,39.1L74.86,39.1L75.38,39.1L75.89,39.1L76.41,39.1L76.93,39.1L77.45,39.1L77.97,39.1L78.48,39.1L79.00,39.1L79.52,39.1L80.04,39.1L80.56,39.1L81.07,39.1L81.59,39.2L82.11,39.2L82.63,39.2L83.15,39.2L83.66,39.2L84.18,39.3L84.70,39.3L85.22,39.4L85.74,39.4L86.25,39.5L86.77,39.5L87.29,39.6L87.81,39.7L88.33,39.8L88.84,39.9L89.36,40.0L89.88,40.1L90.40,40.3L90.92,40.4L91.43,40.6L91.95,40.8L92.47,41.0L92.99,41.2L93.51,41.5L94.02,41.8L94.54,42.1L95.06,42.4L95.58,42.8L96.10,43.1L96.61,43.6L97.13,44.0L97.65,44.5L98.17,45.0L98.69,45.5L99.20,46.1L99.72,46.7L100.24,47.4L100.76,48.0L101.28,48.7L101.79,49.5L102.31,50.2L102.83,51.0L103.35,51.8L103.87,52.7L104.38,53.5L104.90,54.4L105.42,55.3L105.94,56.2L106.46,57.1L106.97,58.1L107.49,59.0L108.01,59.9L108.53,60.8L109.05,61.7L109.56,62.5L110.08,63.3L110.60,64.1L111.12,64.9L111.64,65.6L112.15,66.2L112.67,66.8L113.19,67.3L113.71,67.8L114.23,68.2L114.74,68.5L115.26,68.7L115.78,68.8L116.30,68.8L116.82,68.7L117.33,68.5L117.85,68.2L118.37,67.8L118.89,67.3L119.41,66.7L119.92,66.0L120.44,65.2L120.96,64.2L121.48,63.2L122.00,62.1L122.51,60.9L123.03,59.5L123.55,58.1L124.07,56.7L124.59,55.1L125.10,53.5L125.62,51.8L126.14,50.1L126.66,48.3L127.18,46.5L127.69,44.7L128.21,42.9L128.73,41.1L129.25,39.2L129.77,37.4L130.28,35.7L130.80,33.9L131.32,32.2L131.84,30.6L132.36,29.1L132.87,27.6L133.39,26.2L133.91,24.8L134.43,23.6L134.95,22.5L135.46,21.5L135.98,20.6L136.50,19.8L137.02,19.1L137.54,18.6L138.05,18.2L138.57,17.9L139.09,17.7L139.61,17.6L140.13,17.7L140.64,17.9L141.16,18.2L141.68,18.7L142.20,19.2L142.72,19.8L143.23,20.6L143.75,21.4L144.27,22.3L144.79,23.3L145.31,24.4L145.82,25.6L146.34,26.8L146.86,28.0L147.38,29.3L147.90,30.7L148.41,32.0L148.93,33.4L149.45,34.8L149.97,36.2L150.49,37.6L151.00,38.9L151.52,40.3L152.04,41.6L152.56,43.0L153.08,44.2L153.59,45.4L154.11,46.6L154.63,47.7L155.15,48.8L155.67,49.8L156.18,50.8L156.70,51.6L157.22,52.4L157.74,53.2L158.26,53.8L158.77,54.4L159.29,54.9L159.81,55.3L160.33,55.7L160.85,55.9L161.36,56.1L161.88,56.2L162.40,56.3L162.92,56.3L163.44,56.2L163.95,56.0L164.47,55.8L164.99,55.5L165.51,55.2L166.03,54.8L166.54,54.3L167.06,53.8L167.58,53.3L168.10,52.7L168.62,52.1L169.13,51.4L169.65,50.7L170.17,50.0L170.69,49.3L171.21,48.5L171.72,47.7L172.24,46.9L172.76,46.1L173.28,45.3L173.79,44.5L174.31,43.7L174.83,42.9L175.35,42.0L175.87,41.2L176.38,40.4L176.90,39.7L177.42,38.9L177.94,38.1L178.46,37.4L178.97,36.7L179.49,36.0L180.01,35.3L180.53,34.6L181.05,34.0L181.56,33.4L182.08,32.8L182.60,32.3L183.12,31.7L183.64,31.2L184.15,30.8L184.67,30.3L185.19,29.9L185.71,29.5L186.23,29.2L186.74,28.8L187.26,28.5L187.78,28.2L188.30,28.0L188.82,27.8L189.33,27.5L189.85,27.4L190.37,27.2L190.89,27.1L191.41,27.0L191.92,26.9L192.44,26.8L192.96,26.8L193.48,26.8L194.00,26.8L194.51,26.8L195.03,26.8L195.55,26.8L196.07,26.9L196.59,27.0L197.10,27.1L197.62,27.2L198.14,27.3L198.66,27.4L199.18,27.6L199.69,27.7L200.21,27.9L200.73,28.0L201.25,28.2L201.77,28.4L202.28,28.6L202.80,28.7L203.32,28.9L203.84,29.1L204.36,29.3L204.87,29.6L205.39,29.8L205.91,30.0L206.43,30.2L206.95,30.4L207.46,30.6L207.98,30.8L208.50,31.1L209.02,31.3L209.54,31.5L210.05,31.7L210.57,31.9L211.09,32.1L211.61,32.4L212.13,32.6L212.64,32.8L213.16,33.0L213.68,33.2L214.20,33.4L214.72,33.6L215.23,33.8L215.75,34.0L216.27,34.2L216.79,34.4L217.31,34.6L217.82,34.8L218.34,35.0L218.86,35.2L219.38,35.4L219.90,35.6L220.41,35.8L220.93,36.0L221.45,36.2L221.97,36.4L222.49,36.6L223.00,36.8L223.52,37.0L224.04,37.2L224.56,37.4L225.08,37.6L225.59,37.8L226.11,38.0L226.63,38.2L227.15,38.4L227.67,38.6L228.18,38.8L228.70,39.1L229.22,39.3L229.74,39.5L230.26,39.8L230.77,40.0L231.29,40.2L231.81,40.5L232.33,40.7L232.85,41.0L233.36,41.3L233.88,41.5L234.40,41.8L234.92,42.1L235.44,42.4L235.95,42.6L236.47,42.9L236.99,43.2L237.51,43.5L238.03,43.8L238.54,44.1L239.06,44.4L239.58,44.7L240.10,45.1L240.62,45.4L241.13,45.7L241.65,46.0L242.17,46.3L242.69,46.6L243.21,47.0L243.72,47.3L244.24,47.6L244.76,47.9L245.28,48.2L245.80,48.5L246.31,48.9L246.83,49.2L247.35,49.4L247.87,49.7L248.39,50.0L248.90,50.3L249.42,50.5L249.94,50.8L250.46,51.0L250.98,51.3L251.49,51.5L252.01,51.7L252.53,51.8L253.05,52.0L253.57,52.1L254.08,52.2L254.60,52.3L255.12,52.4L255.64,52.5L256.16,52.5L256.67,52.5L257.19,52.5L257.71,52.4L258.23,52.3L258.75,52.2L259.26,52.1L259.78,51.9L260.30,51.7L260.82,51.4L261.34,51.1L261.85,50.8L262.37,50.5L262.89,50.1L263.41,49.7L263.93,49.2L264.44,48.7L264.96,48.2L265.48,47.6L266.00,47.0L266.52,46.4L267.03,45.7L267.55,45.0L268.07,44.2L268.59,43.5L269.11,42.7L269.62,41.9L270.14,41.0L270.66,40.2L271.18,39.3L271.70,38.4L272.21,37.5L272.73,36.5L273.25,35.6L273.77,34.7L274.29,33.7L274.80,32.8L275.32,31.9L275.84,31.0L276.36,30.1L276.88,29.2L277.39,28.3L277.91,27.5L278.43,26.7L278.95,25.9L279.47,25.2L279.98,24.5L280.50,23.9L281.02,23.3L281.54,22.8L282.06,22.4L282.57,22.0L283.09,21.7L283.61,21.5L284.13,21.3L284.65,21.2L285.16,21.2L285.68,21.3L286.20,21.5L286.72,21.7L287.24,22.1L287.75,22.5L288.27,23.1L288.79,23.7L289.31,24.4L289.83,25.2L290.34,26.0L290.86,27.0L291.38,28.0L291.90,29.1L292.42,30.3L292.93,31.5L293.45,32.8L293.97,34.1L294.49,35.5L295.01,36.9L295.52,38.4L296.04,39.9L296.56,41.4L297.08,42.9L297.60,44.4L298.11,45.8L298.63,47.3L299.15,48.7L299.67,50.1L300.19,51.5L300.70,52.8L301.22,54.0L301.74,55.1L302.26,56.2L302.78,57.2L303.29,58.0L303.81,58.8L304.33,59.5L304.85,60.0L305.37,60.4L305.88,60.7L306.40,60.8L306.92,60.9L307.44,60.7L307.96,60.5L308.47,60.1L308.99,59.6L309.51,58.9L310.03,58.1L310.55,57.2L311.06,56.2L311.58,55.0L312.10,53.7L312.62,52.4L313.14,50.9L313.65,49.3L314.17,47.7L314.69,46.0L315.21,44.2L315.73,42.4L316.24,40.5L316.76,38.6L317.28,36.7L317.80,34.8L318.32,32.9L318.83,31.0L319.35,29.2L319.87,27.3L320.39,25.5L320.91,23.8L321.42,22.2L321.94,20.6L322.46,19.1L322.98,17.6L323.50,16.3L324.01,15.1L324.53,14.0L325.05,13.0L325.57,12.1L326.09,11.3L326.60,10.6L327.12,10.0L327.64,9.6L328.16,9.3L328.68,9.1L329.19,9.0L329.71,9.0L330.23,9.1L330.75,9.3L331.26,9.6L331.78,9.9L332.30,10.4L332.82,10.9L333.34,11.5L333.85,12.2L334.37,13.0L334.89,13.7L335.41,14.5L335.93,15.4L336.44,16.3L336.96,17.2L337.48,18.1L338.00,19.1L338.52,20.0L339.03,21.0L339.55,21.9L340.07,22.8L340.59,23.8L341.11,24.7L341.62,25.6L342.14,26.4L342.66,27.3L343.18,28.1L343.70,28.8L344.21,29.6L344.73,30.3L345.25,31.0L345.77,31.6L346.29,32.2L346.80,32.8L347.32,33.3L347.84,33.8L348.36,34.3L348.88,34.7L349.39,35.2L349.91,35.5L350.43,35.9L350.95,36.2L351.47,36.5L351.98,36.8L352.50,37.0L353.02,37.2L353.54,37.4L354.06,37.6L354.57,37.8L355.09,37.9L355.61,38.1L356.13,38.2L356.65,38.3L357.16,38.4L357.68,38.5L358.20,38.6L358.72,38.6L359.24,38.7L359.75,38.7L360.27,38.8L360.79,38.8L361.31,38.9L361.83,38.9L362.34,38.9L362.86,38.9L363.38,38.9L363.90,39.0L364.42,39.0L364.93,39.0L365.45,39.0L365.97,39.0L366.49,39.0L367.01,39.0L367.52,39.0L368.04,39.0L368.56,39.0L369.08,39.0L369.60,39.0L370.11,39.0L370.63,39.0L371.15,39.0L371.67,39.0L372.19,39.0L372.70,39.0L373.22,39.0L373.74,39.0L374.26,39.0L374.78,39.0L375.29,39.0L375.81,39.0L376.33,39.0L376.85,39.0L377.37,39.0L377.88,39.0L378.40,39.0L378.92,39.0L379.44,39.0L379.96,39.0L380.47,39.0L380.99,39.0L381.51,39.0L382.03,39.0L382.55,39.0L383.06,39.0L383.58,39.0L384.10,39.0L384.62,39.0L385.14,39.0L385.65,39.0L386.17,39.0L386.69,39.0L387.21,39.0L387.73,39.0L388.24,39.0L388.76,39.0L389.28,39.0L389.80,39.0L390.32,39.0L390.83,39.0L391.35,39.0L391.87,39.0L392.39,39.0L392.91,39.0L393.42,39.0L393.94,39.0L394.46,39.0L394.98,39.0L395.50,39.0L396.01,39.0L396.53,39.0L397.05,39.0L397.57,39.0L398.09,39.0L398.60,39.0L399.12,39.0L399.64,39.0L400.16,39.0L400.68,39.0L401.19,39.0L401.71,39.0L402.23,39.0L402.75,39.0"/>
</g>
<path d="M65.02,-34.7L65.53,-32.4L66.05,-30.1L66.57,-27.8L67.09,-25.5L67.61,-23.2L68.12,-20.9L68.64,-18.6L69.16,-16.4L69.68,-14.1L70.20,-11.9L70.71,-9.6L71.23,-7.4L71.75,-5.2L72.27,-2.9L72.79,-0.7L73.30,1.5L73.82,3.7L74.34,5.9L74.86,8.0L75.38,10.2L75.89,12.4L76.41,14.5L76.93,16.7L77.45,18.8L77.97,21.0L78.48,23.1L79.00,25.2L79.52,27.3L80.04,29.4L80.56,31.5L81.07,33.6L81.59,35.7L82.11,37.8L82.63,39.8L83.15,41.9L83.66,44.0L84.18,46.0L84.70,48.0L85.22,50.1L85.74,52.1L86.25,54.1L86.77,56.1L87.29,58.1L87.81,60.1L88.33,62.1L88.84,64.0L89.36,66.0L89.88,68.0L90.40,69.9L90.92,71.8L91.43,73.8L91.95,75.7L92.47,77.6L92.99,79.5L93.51,81.4L94.02,83.3L94.54,85.2L95.06,87.1L95.58,89.0L96.10,90.9L96.61,92.7L97.13,94.6L97.65,96.4L98.17,98.2L98.69,100.1L99.20,101.9L99.72,103.7L100.24,105.5L100.76,107.3L101.28,109.1L101.79,110.9L102.31,112.6L102.83,114.4L103.35,116.2L103.87,117.9L104.38,119.7L104.90,121.4L105.42,123.1L105.94,124.8L106.46,126.6L106.97,128.3L107.49,130.0L108.01,131.6L108.53,133.3L109.05,135.0L109.56,136.7L110.08,138.3L110.60,140.0L111.12,141.6L111.64,143.2L112.15,144.9L112.67,146.5L113.19,148.1L113.71,149.7L114.23,151.3L114.74,152.9L115.26,154.5L115.78,156.1L116.30,157.6L116.82,159.2L117.33,160.7L117.85,162.3L118.37,163.8L118.89,165.3L119.41,166.8L119.92,168.4L120.44,169.9L120.96,171.4L121.48,172.9L122.00,174.3L122.51,175.8L123.03,177.3L123.55,178.7L124.07,180.2L124.59,181.6L125.10,183.1L125.62,184.5L126.14,185.9L126.66,187.3L127.18,188.7L127.69,190.1L128.21,191.5L128.73,192.9L129.25,194.3L129.77,195.6L130.28,197.0L130.80,198.3L131.32,199.7L131.84,201.0L132.36,202.3L132.87,203.7L133.39,205.0L133.91,206.3L134.43,207.6L134.95,208.9L135.46,210.1L135.98,211.4L136.50,212.7L137.02,213.9L137.54,215.2L138.05,216.4L138.57,217.7L139.09,218.9L139.61,220.1L140.13,221.3L140.64,222.5L141.16,223.7L141.68,224.9L142.20,226.1L142.72,227.3L143.23,228.4L143.75,229.6L144.27,230.7L144.79,231.9L145.31,233.0L145.82,234.1L146.34,235.3L146.86,236.4L147.38,237.5L147.90,238.6L148.41,239.7L148.93,240.7L149.45,241.8L149.97,242.9L150.49,243.9L151.00,245.0L151.52,246.0L152.04,247.1L152.56,248.1L153.08,249.1L153.59,250.1L154.11,251.1L154.63,252.1L155.15,253.1L155.67,254.1L156.18,255.1L156.70,256.0L157.22,257.0L157.74,257.9L158.26,258.9L158.77,259.8L159.29,260.7L159.81,261.7L160.33,262.6L160.85,263.5L161.36,264.4L161.88,265.3L162.40,266.2L162.92,267.0L163.44,267.9L163.95,268.7L164.47,269.6L164.99,270.4L165.51,271.3L166.03,272.1L166.54,272.9L167.06,273.7L167.58,274.5L168.10,275.3L168.62,276.1L169.13,276.9L169.65,277.7L170.17,278.4L170.69,279.2L171.21,279.9L171.72,280.7L172.24,281.4L172.76,282.2L173.28,282.9L173.79,283.6L174.31,284.3L174.83,285.0L175.35,285.7L175.87,286.4L176.38,287.0L176.90,287.7L177.42,288.4L177.94,289.0L178.46,289.6L178.97,290.3L179.49,290.9L180.01,291.5L180.53,292.1L181.05,292.7L181.56,293.3L182.08,293.9L182.60,294.5L183.12,295.1L183.64,295.6L184.15,296.2L184.67,296.8L185.19,297.3L185.71,297.8L186.23,298.4L186.74,298.9L187.26,299.4L187.78,299.9L188.30,300.4L188.82,300.9L189.33,301.4L189.85,301.8L190.37,302.3L190.89,302.8L191.41,303.2L191.92,303.6L192.44,304.1L192.96,304.5L193.48,304.9L194.00,305.3L194.51,305.7L195.03,306.1L195.55,306.5L196.07,306.9L196.59,307.3L197.10,307.6L197.62,308.0L198.14,308.4L198.66,308.7L199.18,309.0L199.69,309.4L200.21,309.7L200.73,310.0L201.25,310.3L201.77,310.6L202.28,310.9L202.80,311.2L203.32,311.4L203.84,311.7L204.36,312.0L204.87,312.2L205.39,312.4L205.91,312.7L206.43,312.9L206.95,313.1L207.46,313.3L207.98,313.5L208.50,313.7L209.02,313.9L209.54,314.1L210.05,314.3L210.57,314.4L211.09,314.6L211.61,314.8L212.13,314.9L212.64,315.0L213.16,315.2L213.68,315.3L214.20,315.4L214.72,315.5L215.23,315.6L215.75,315.7L216.27,315.8L216.79,315.8L217.31,315.9L217.82,316.0L218.34,316.0L218.86,316.0L219.38,316.1L219.90,316.1L220.41,316.1L220.93,316.1L221.45,316.1L221.97,316.1L222.49,316.1L223.00,316.1L223.52,316.1L224.04,316.0L224.56,316.0L225.08,316.0L225.59,315.9L226.11,315.8L226.63,315.8L227.15,315.7L227.67,315.6L228.18,315.5L228.70,315.4L229.22,315.3L229.74,315.2L230.26,315.0L230.77,314.9L231.29,314.8L231.81,314.6L232.33,314.4L232.85,314.3L233.36,314.1L233.88,313.9L234.40,313.7L234.92,313.5L235.44,313.3L235.95,313.1L236.47,312.9L236.99,312.7L237.51,312.4L238.03,312.2L238.54,312.0L239.06,311.7L239.58,311.4L240.10,311.2L240.62,310.9L241.13,310.6L241.65,310.3L242.17,310.0L242.69,309.7L243.21,309.4L243.72,309.0L244.24,308.7L244.76,308.4L245.28,308.0L245.80,307.6L246.31,307.3L246.83,306.9L247.35,306.5L247.87,306.1L248.39,305.7L248.90,305.3L249.42,304.9L249.94,304.5L250.46,304.1L250.98,303.6L251.49,303.2L252.01,302.8L252.53,302.3L253.05,301.8L253.57,301.4L254.08,300.9L254.60,300.4L255.12,299.9L255.64,299.4L256.16,298.9L256.67,298.4L257.19,297.8L257.71,297.3L258.23,296.8L258.75,296.2L259.26,295.6L259.78,295.1L260.30,294.5L260.82,293.9L261.34,293.3L261.85,292.7L262.37,292.1L262.89,291.5L263.41,290.9L263.93,290.3L264.44,289.6L264.96,289.0L265.48,288.4L266.00,287.7L266.52,287.0L267.03,286.4L267.55,285.7L268.07,285.0L268.59,284.3L269.11,283.6L269.62,282.9L270.14,282.2L270.66,281.4L271.18,280.7L271.70,279.9L272.21,279.2L272.73,278.4L273.25,277.7L273.77,276.9L274.29,276.1L274.80,275.3L275.32,274.5L275.84,273.7L276.36,272.9L276.88,272.1L277.39,271.3L277.91,270.4L278.43,269.6L278.95,268.7L279.47,267.9L279.98,267.0L280.50,266.2L281.02,265.3L281.54,264.4L282.06,263.5L282.57,262.6L283.09,261.7L283.61,260.7L284.13,259.8L284.65,258.9L285.16,257.9L285.68,257.0L286.20,256.0L286.72,255.1L287.24,254.1L287.75,253.1L288.27,252.1L288.79,251.1L289.31,250.1L289.83,249.1L290.34,248.1L290.86,247.1L291.38,246.0L291.90,245.0L292.42,243.9L292.93,242.9L293.45,241.8L293.97,240.7L294.49,239.7L295.01,238.6L295.52,237.5L296.04,236.4L296.56,235.3L297.08,234.1L297.60,233.0L298.11,231.9L298.63,230.7L299.15,229.6L299.67,228.4L300.19,227.3L300.70,226.1L301.22,224.9L301.74,223.7L302.26,222.5L302.78,221.3L303.29,220.1L303.81,218.9L304.33,217.7L304.85,216.4L305.37,215.2L305.88,213.9L306.40,212.7L306.92,211.4L307.44,210.1L307.96,208.9L308.47,207.6L308.99,206.3L309.51,205.0L310.03,203.7L310.55,202.3L311.06,201.0L311.58,199.7L312.10,198.3L312.62,197.0L313.14,195.6L313.65,194.3L314.17,192.9L314.69,191.5L315.21,190.1L315.73,188.7L316.24,187.3L316.76,185.9L317.28,184.5L317.80,183.1L318.32,181.6L318.83,180.2L319.35,178.7L319.87,177.3L320.39,175.8L320.91,174.3L321.42,172.9L321.94,171.4L322.46,169.9L322.98,168.4L323.50,166.8L324.01,165.3L324.53,163.8L325.05,162.3L325.57,160.7L326.09,159.2L326.60,157.6L327.12,156.1L327.64,154.5L328.16,152.9L328.68,151.3L329.19,149.7L329.71,148.1L330.23,146.5L330.75,144.9L331.26,143.2L331.78,141.6L332.30,140.0L332.82,138.3L333.34,136.7L333.85,135.0L334.37,133.3L334.89,131.6L335.41,130.0L335.93,128.3L336.44,126.6L336.96,124.8L337.48,123.1L338.00,121.4L338.52,119.7L339.03,117.9L339.55,116.2L340.07,114.4L340.59,112.6L341.11,110.9L341.62,109.1L342.14,107.3L342.66,105.5L343.18,103.7L343.70,101.9L344.21,100.1L344.73,98.2L345.25,96.4L345.77,94.6L346.29,92.7L346.80,90.9L347.32,89.0L347.84,87.1L348.36,85.2L348.88,83.3L349.39,81.4L349.91,79.5L350.43,77.6L350.95,75.7L351.47,73.8L351.98,71.8L352.50,69.9L353.02,68.0L353.54,66.0L354.06,64.0L354.57,62.1L355.09,60.1L355.61,58.1L356.13,56.1L356.65,54.1L357.16,52.1L357.68,50.1L358.20,48.0L358.72,46.0L359.24,44.0L359.75,41.9L360.27,39.8L360.79,37.8L361.31,35.7L361.83,33.6L362.34,31.5L362.86,29.4L363.38,27.3L363.90,25.2L364.42,23.1L364.93,21.0L365.45,18.8L365.97,16.7L366.49,14.5L367.01,12.4L367.52,10.2L368.04,8.0L368.56,5.9L369.08,3.7L369.60,1.5L370.11,-0.7L370.63,-2.9L371.15,-5.2L371.67,-7.4L372.19,-9.6L372.70,-11.9L373.22,-14.1L373.74,-16.4L374.26,-18.6L374.78,-20.9L375.29,-23.2L375.81,-25.5L376.33,-27.8L376.85,-30.1L377.37,-32.4L377.88,-34.7" stroke="#000" stroke-width="2.4" stroke-linejoin="round"/>
<path d="M100.24,-34.3L100.76,-28.7L101.28,-23.2L101.79,-17.7L102.31,-12.3L102.83,-7.0L103.35,-1.8L103.87,3.4L104.38,8.6L104.90,13.6L105.42,18.6L105.94,23.6L106.46,28.4L106.97,33.3L107.49,38.0L108.01,42.7L108.53,47.3L109.05,51.9L109.56,56.4L110.08,60.9L110.60,65.3L111.12,69.6L111.64,73.9L112.15,78.2L112.67,82.4L113.19,86.5L113.71,90.6L114.23,94.6L114.74,98.5L115.26,102.4L115.78,106.3L116.30,110.1L116.82,113.9L117.33,117.6L117.85,121.2L118.37,124.8L118.89,128.4L119.41,131.9L119.92,135.4L120.44,138.8L120.96,142.1L121.48,145.5L122.00,148.7L122.51,152.0L123.03,155.1L123.55,158.3L124.07,161.4L124.59,164.4L125.10,167.4L125.62,170.4L126.14,173.3L126.66,176.2L127.18,179.0L127.69,181.8L128.21,184.5L128.73,187.2L129.25,189.9L129.77,192.5L130.28,195.1L130.80,197.7L131.32,200.2L131.84,202.7L132.36,205.1L132.87,207.5L133.39,209.9L133.91,212.2L134.43,214.5L134.95,216.8L135.46,219.0L135.98,221.2L136.50,223.3L137.02,225.5L137.54,227.5L138.05,229.6L138.57,231.6L139.09,233.6L139.61,235.6L140.13,237.5L140.64,239.4L141.16,241.2L141.68,243.1L142.20,244.9L142.72,246.7L143.23,248.4L143.75,250.1L144.27,251.8L144.79,253.5L145.31,255.1L145.82,256.7L146.34,258.3L146.86,259.9L147.38,261.4L147.90,262.9L148.41,264.4L148.93,265.9L149.45,267.3L149.97,268.7L150.49,270.1L151.00,271.5L151.52,272.8L152.04,274.1L152.56,275.4L153.08,276.7L153.59,278.0L154.11,279.2L154.63,280.4L155.15,281.6L155.67,282.8L156.18,283.9L156.70,285.1L157.22,286.2L157.74,287.3L158.26,288.4L158.77,289.5L159.29,290.5L159.81,291.5L160.33,292.6L160.85,293.6L161.36,294.6L161.88,295.6L162.40,296.5L162.92,297.5L163.44,298.4L163.95,299.3L164.47,300.2L164.99,301.2L165.51,302.0L166.03,302.9L166.54,303.8L167.06,304.7L167.58,305.5L168.10,306.4L168.62,307.2L169.13,308.0L169.65,308.8L170.17,309.7L170.69,310.5L171.21,311.3L171.72,312.1L172.24,312.9L172.76,313.7L173.28,314.5L173.79,315.2L174.31,316.0L174.83,316.8L175.35,317.6L175.87,318.4L176.38,319.2L176.90,320.0L177.42,320.7L177.94,321.5L178.46,322.3L178.97,323.1L179.49,323.9L180.01,324.7L180.53,325.6L181.05,326.4L181.56,327.2L182.08,328.1L182.60,328.9L183.12,329.8L183.64,330.6L184.15,331.5L184.67,332.4L185.19,333.3L185.31,333.5L185.43,333.7L185.55,333.9L185.67,334.1L185.71,334.2L185.80,334.3L185.92,334.6L186.04,334.8L186.16,335.0L186.23,335.1L186.28,335.2L186.40,335.4L186.52,335.6L186.64,335.9L186.74,336.0L186.76,336.1L186.88,336.3L187.00,336.5L187.12,336.7L187.25,337.0L187.26,337.0L187.37,337.2L187.49,337.4L187.61,337.6L187.73,337.9L187.78,337.9L187.85,338.1L187.97,338.3L188.09,338.5L188.21,338.8L188.30,338.9L188.33,339.0L188.45,339.2L188.58,339.4L188.70,339.7L188.82,339.9L188.82,339.9L188.94,340.1L189.06,340.4L189.18,340.6L189.30,340.8L189.33,340.9L189.42,341.1L189.54,341.3L189.66,341.5L189.78,341.8L189.85,341.9L189.90,342.0L190.03,342.2L190.15,342.5L190.27,342.7L190.37,342.9L190.39,342.9L190.51,343.2L190.63,343.4L190.75,343.7L190.87,343.9L190.89,343.9L190.99,344.1L191.11,344.4L191.23,344.6L191.35,344.8L191.41,344.9L191.48,345.1L191.60,345.3L191.72,345.6L191.84,345.8L191.92,346.0L191.96,346.0L192.08,346.3L192.20,346.5L192.32,346.8L192.44,347.0L192.44,347.0L192.56,347.3L192.68,347.5L192.81,347.7L192.93,348.0L192.96,348.0L193.05,348.2L193.17,348.5L193.29,348.7L193.41,348.9L193.48,349.1L193.53,349.2L193.65,349.4L193.77,349.6L193.89,349.9L194.00,350.1L194.01,350.1L194.13,350.4L194.26,350.6L194.38,350.8L194.50,351.1L194.51,351.1L194.62,351.3L194.74,351.5L194.86,351.8L194.98,352.0L195.03,352.1L195.10,352.2L195.22,352.4L195.34,352.7L195.46,352.9L195.55,353.0L195.59,353.1L195.71,353.3L195.83,353.5L195.95,353.8L196.07,354.0L196.07,354.0L196.19,354.2L196.31,354.4L196.43,354.6L196.55,354.8L196.59,354.9L196.67,355.0L196.79,355.2L196.91,355.4L197.04,355.6L197.10,355.7L197.16,355.8L197.28,356.0L197.40,356.2L197.52,356.3L197.62,356.5L197.64,356.5L197.76,356.7L197.88,356.9L198.00,357.0L198.12,357.2L198.14,357.2L198.24,357.3L198.37,357.5L198.49,357.6L198.61,357.8L198.66,357.8L198.73,357.9L198.85,358.1L198.97,358.2L199.09,358.3L199.18,358.4L199.21,358.4L199.33,358.5L199.45,358.6L199.57,358.7L199.69,358.8L199.69,358.8L199.82,358.9L199.94,359.0L200.06,359.0L200.18,359.1L200.21,359.1L200.30,359.1L200.42,359.2L200.54,359.2L200.66,359.2L200.73,359.3L200.78,359.3L200.90,359.3L201.02,359.3L201.15,359.3L201.25,359.2L201.27,359.2L201.39,359.2L201.51,359.2L201.63,359.1L201.75,359.0L201.77,359.0L201.87,359.0L201.99,358.9L202.11,358.8L202.23,358.6L202.28,358.6L202.35,358.5L202.47,358.4L202.60,358.2L202.72,358.0L202.80,357.9L202.84,357.9L202.96,357.7L203.08,357.4L203.20,357.2L203.32,357.0L203.44,356.7L203.56,356.4L203.68,356.1L203.80,355.8L203.84,355.7L203.92,355.5L204.05,355.1L204.17,354.8L204.29,354.4L204.36,354.1L204.41,354.0L204.53,353.5L204.65,353.1L204.77,352.6L204.87,352.2L204.89,352.1L205.01,351.6L205.13,351.1L205.25,350.5L205.38,349.9L205.39,349.8L205.50,349.3L205.62,348.7L205.74,348.0L205.86,347.3L205.91,347.0L205.98,346.6L206.10,345.9L206.22,345.1L206.34,344.4L206.43,343.8L206.46,343.5L206.58,342.7L206.70,341.8L206.83,340.9L206.95,340.0L206.95,340.0L207.07,339.1L207.19,338.1L207.31,337.1L207.43,336.0L207.46,335.7L207.55,335.0L207.67,333.8L207.79,332.7L207.91,331.5L207.98,330.9L208.03,330.3L208.16,329.1L208.28,327.8L208.40,326.5L208.50,325.4L208.52,325.2L208.64,323.8L208.76,322.4L208.88,321.0L209.00,319.5L209.02,319.3L209.12,318.0L209.24,316.5L209.36,314.9L209.48,313.3L209.54,312.6L209.61,311.6L209.73,310.0L209.85,308.2L209.97,306.5L210.05,305.2L210.09,304.7L210.21,302.9L210.33,301.0L210.45,299.1L210.57,297.2L210.57,297.2L210.69,295.2L210.81,293.3L210.94,291.2L211.06,289.2L211.09,288.6L211.18,287.1L211.30,284.9L211.42,282.8L211.54,280.6L211.61,279.3L211.66,278.3L211.78,276.1L211.90,273.8L212.02,271.5L212.13,269.4L212.14,269.1L212.26,266.7L212.39,264.3L212.51,261.9L212.63,259.4L212.64,259.1L212.75,256.9L212.87,254.4L212.99,251.9L213.11,249.3L213.16,248.2L213.23,246.7L213.35,244.1L213.47,241.5L213.59,238.9L213.68,237.0L213.72,236.2L213.84,233.5L213.96,230.8L214.08,228.1L214.20,225.4L214.20,225.4L214.32,222.7L214.44,220.0L214.56,217.2L214.68,214.5L214.72,213.7L214.80,211.7L214.92,209.0L215.04,206.2L215.17,203.5L215.23,201.9L215.29,200.7L215.41,198.0L215.53,195.3L215.65,192.5L215.75,190.2L215.77,189.8L215.89,187.1L216.01,184.5L216.13,181.8L216.25,179.2L216.27,178.8L216.37,176.5L216.49,173.9L216.62,171.4L216.74,168.8L216.79,167.7L216.86,166.3L216.98,163.8L217.10,161.4L217.22,159.0L217.31,157.3L217.34,156.6L217.46,154.3L217.58,152.0L217.70,149.7L217.82,147.5L217.82,147.5L217.95,145.4L218.07,143.3L218.19,141.3L218.31,139.3L218.34,138.7L218.43,137.3L218.55,135.5L218.67,133.7L218.79,131.9L218.86,130.9L218.91,130.2L219.03,128.6L219.15,127.1L219.27,125.6L219.38,124.4L219.40,124.2L219.52,122.8L219.64,121.6L219.76,120.4L219.88,119.3L219.90,119.1L220.00,118.3L220.12,117.3L220.24,116.4L220.36,115.6L220.41,115.3L220.48,114.9L220.60,114.3L220.73,113.7L220.85,113.3L220.93,113.0L220.97,112.9L221.09,112.6L221.21,112.4L221.33,112.3L221.45,112.2L221.57,112.3L221.69,112.4L221.81,112.6L221.93,112.9L221.97,113.0L222.05,113.3L222.18,113.8L222.30,114.3L222.42,115.0L222.49,115.4L222.54,115.7L222.66,116.5L222.78,117.4L222.90,118.3L223.00,119.2L223.02,119.4L223.14,120.5L223.26,121.7L223.38,123.0L223.51,124.3L223.52,124.5L223.63,125.7L223.75,127.2L223.87,128.8L223.99,130.4L224.04,131.1L224.11,132.1L224.23,133.8L224.35,135.7L224.47,137.5L224.56,138.9L224.59,139.5L224.71,141.5L224.83,143.5L224.96,145.6L225.08,147.8L225.08,147.8L225.20,150.0L225.32,152.2L225.44,154.5L225.56,156.9L225.59,157.5L225.68,159.2L225.80,161.7L225.92,164.1L226.04,166.6L226.11,168.0L226.16,169.1L226.28,171.7L226.41,174.3L226.53,176.9L226.63,179.1L226.65,179.5L226.77,182.1L226.89,184.8L227.01,187.5L227.13,190.2L227.15,190.6L227.25,192.9L227.37,195.6L227.49,198.4L227.61,201.1L227.67,202.3L227.74,203.9L227.86,206.6L227.98,209.4L228.10,212.2L228.18,214.1L228.22,214.9L228.34,217.7L228.46,220.4L228.58,223.1L228.70,225.9L228.82,228.6L228.94,231.3L229.06,234.0L229.19,236.7L229.22,237.5L229.31,239.4L229.43,242.0L229.55,244.6L229.67,247.3L229.74,248.7L229.79,249.8L229.91,252.4L230.03,255.0L230.15,257.5L230.26,259.6L230.27,260.0L230.39,262.5L230.52,264.9L230.64,267.3L230.76,269.7L230.77,270.1L230.88,272.1L231.00,274.4L231.12,276.7L231.24,279.0L231.29,279.9L231.36,281.2L231.48,283.4L231.60,285.6L231.72,287.7L231.81,289.2L231.84,289.8L231.97,291.9L232.09,294.0L232.21,296.0L232.33,297.9L232.33,297.9L232.45,299.9L232.57,301.8L232.69,303.6L232.81,305.5L232.85,306.0L232.93,307.3L233.05,309.0L233.17,310.7L233.30,312.4L233.36,313.4L233.42,314.1L233.54,315.7L233.66,317.3L233.78,318.8L233.88,320.1L233.90,320.4L234.02,321.8L234.14,323.3L234.26,324.7L234.38,326.1L234.40,326.3L234.50,327.4L234.62,328.7L234.75,330.0L234.87,331.2L234.92,331.8L234.99,332.5L235.11,333.6L235.23,334.8L235.35,335.9L235.44,336.7L235.47,337.0L235.59,338.0L235.71,339.1L235.83,340.1L235.95,341.0L235.95,341.0L236.08,342.0L236.20,342.9L236.32,343.7L236.44,344.6L236.47,344.8L236.56,345.4L236.68,346.2L236.80,347.0L236.92,347.7L236.99,348.1L237.04,348.4L237.16,349.1L237.28,349.8L237.40,350.4L237.51,350.9L237.53,351.0L237.65,351.6L237.77,352.2L237.89,352.7L238.01,353.3L238.03,353.3L238.13,353.8L238.25,354.3L238.37,354.7L238.49,355.2L238.54,355.3L238.61,355.6L238.73,356.0L238.85,356.4L238.98,356.7L239.06,357.0L239.10,357.1L239.22,357.4L239.34,357.7L239.46,358.0L239.58,358.3L239.70,358.5L239.82,358.8L239.94,359.0L240.06,359.2L240.10,359.2L240.18,359.4L240.31,359.6L240.43,359.7L240.55,359.9L240.62,360.0L240.67,360.0L240.79,360.2L240.91,360.3L241.03,360.4L241.13,360.4L241.15,360.5L241.27,360.5L241.39,360.6L241.51,360.7L241.63,360.7L241.65,360.7L241.76,360.7L241.88,360.8L242.00,360.8L242.12,360.8L242.17,360.8L242.24,360.8L242.36,360.8L242.48,360.7L242.60,360.7L242.69,360.7L242.72,360.7L242.84,360.6L242.96,360.6L243.09,360.5L243.21,360.4L243.21,360.4L243.33,360.4L243.45,360.3L243.57,360.2L243.69,360.1L243.72,360.1L243.81,360.0L243.93,359.9L244.05,359.8L244.17,359.6L244.24,359.6L244.29,359.5L244.41,359.4L244.54,359.2L244.66,359.1L244.76,359.0L244.78,359.0L244.90,358.8L245.02,358.7L245.14,358.5L245.26,358.3L245.28,358.3L245.38,358.2L245.50,358.0L245.62,357.8L245.74,357.7L245.80,357.6L245.87,357.5L245.99,357.3L246.11,357.1L246.23,356.9L246.31,356.8L246.35,356.7L246.47,356.5L246.59,356.3L246.71,356.1L246.83,355.9L246.95,355.7L247.07,355.5L247.19,355.3L247.32,355.1L247.35,355.1L247.44,354.9L247.56,354.7L247.68,354.5L247.80,354.3L247.87,354.2L247.92,354.1L248.04,353.9L248.16,353.6L248.28,353.4L248.39,353.2L248.40,353.2L248.52,353.0L248.65,352.8L248.77,352.5L248.89,352.3L248.90,352.3L249.01,352.1L249.13,351.9L249.25,351.6L249.37,351.4L249.42,351.3L249.49,351.2L249.61,351.0L249.73,350.7L249.85,350.5L249.94,350.3L249.97,350.3L250.10,350.1L250.22,349.8L250.34,349.6L250.46,349.4L250.46,349.4L250.58,349.1L250.70,348.9L250.82,348.7L250.94,348.5L250.98,348.4L251.06,348.2L251.18,348.0L251.30,347.8L251.42,347.6L251.49,347.4L251.55,347.3L251.67,347.1L251.79,346.9L251.91,346.7L252.01,346.5L252.03,346.4L252.15,346.2L252.27,346.0L252.39,345.8L252.51,345.5L252.53,345.5L252.63,345.3L252.75,345.1L252.88,344.9L253.00,344.6L253.05,344.6L253.12,344.4L253.24,344.2L253.36,344.0L253.48,343.8L253.57,343.6L253.60,343.6L253.72,343.3L253.84,343.1L253.96,342.9L254.08,342.7L254.08,342.7L254.20,342.5L254.33,342.3L254.45,342.0L254.57,341.8L254.60,341.8L254.69,341.6L254.81,341.4L254.93,341.2L255.05,341.0L255.12,340.9L255.17,340.8L255.29,340.6L255.41,340.4L255.53,340.1L255.64,340.0L255.66,339.9L255.78,339.7L255.90,339.5L256.02,339.3L256.14,339.1L256.16,339.1L256.26,338.9L256.38,338.7L256.50,338.5L256.62,338.3L256.67,338.2L256.74,338.1L256.86,337.9L256.98,337.7L257.11,337.5L257.19,337.4L257.23,337.3L257.35,337.1L257.47,336.9L257.59,336.7L257.71,336.5L258.23,335.7L258.75,334.9L259.26,334.1L259.78,333.3L260.30,332.5L260.82,331.7L261.34,331.0L261.85,330.2L262.37,329.5L262.89,328.7L263.41,328.0L263.93,327.3L264.44,326.5L264.96,325.8L265.48,325.1L266.00,324.4L266.52,323.7L267.03,323.0L267.55,322.3L268.07,321.6L268.59,320.9L269.11,320.2L269.62,319.5L270.14,318.8L270.66,318.1L271.18,317.4L271.70,316.7L272.21,315.9L272.73,315.2L273.25,314.5L273.77,313.8L274.29,313.0L274.80,312.3L275.32,311.5L275.84,310.8L276.36,310.0L276.88,309.2L277.39,308.4L277.91,307.6L278.43,306.8L278.95,306.0L279.47,305.2L279.98,304.4L280.50,303.5L281.02,302.7L281.54,301.8L282.06,300.9L282.57,300.0L283.09,299.1L283.61,298.1L284.13,297.2L284.65,296.2L285.16,295.3L285.68,294.3L286.20,293.3L286.72,292.2L287.24,291.2L287.75,290.1L288.27,289.0L288.79,287.9L289.31,286.8L289.83,285.7L290.34,284.5L290.86,283.3L291.38,282.1L291.90,280.9L292.42,279.7L292.93,278.4L293.45,277.1L293.97,275.8L294.49,274.5L295.01,273.1L295.52,271.7L296.04,270.3L296.56,268.9L297.08,267.5L297.60,266.0L298.11,264.5L298.63,262.9L299.15,261.4L299.67,259.8L300.19,258.2L300.70,256.5L301.22,254.9L301.74,253.2L302.26,251.4L302.78,249.7L303.29,247.9L303.81,246.1L304.33,244.2L304.85,242.3L305.37,240.4L305.88,238.5L306.40,236.5L306.92,234.5L307.44,232.4L307.96,230.4L308.47,228.3L308.99,226.1L309.51,223.9L310.03,221.7L310.55,219.5L311.06,217.2L311.58,214.9L312.10,212.5L312.62,210.1L313.14,207.7L313.65,205.2L314.17,202.7L314.69,200.1L315.21,197.5L315.73,194.9L316.24,192.2L316.76,189.5L317.28,186.8L317.80,184.0L318.32,181.1L318.83,178.2L319.35,175.3L319.87,172.3L320.39,169.3L320.91,166.3L321.42,163.2L321.94,160.0L322.46,156.8L322.98,153.6L323.50,150.3L324.01,146.9L324.53,143.6L325.05,140.1L325.57,136.6L326.09,133.1L326.60,129.5L327.12,125.9L327.64,122.2L328.16,118.5L328.68,114.7L329.19,110.9L329.71,107.0L330.23,103.0L330.75,99.0L331.26,95.0L331.78,90.9L332.30,86.7L332.82,82.5L333.34,78.2L333.85,73.9L334.37,69.5L334.89,65.1L335.41,60.6L335.93,56.0L336.44,51.4L336.96,46.7L337.48,41.9L338.00,37.1L338.52,32.3L339.03,27.3L339.55,22.3L340.07,17.3L340.59,12.2L341.11,7.0L341.62,1.7L342.14,-3.6L342.66,-8.9L343.18,-14.4L343.70,-19.9L344.21,-25.5L344.73,-31.1" stroke="#ff8000" stroke-width="2.15" stroke-linejoin="round"/>
</g>
<rect x="40.153" y="16.5" width="362.595" height="347.0" fill="none" stroke="#6e6e6e" stroke-width="0.75"/>
<g stroke="#6e6e6e" stroke-width="0.75">
<line x1="40.15" y1="363.5" x2="40.15" y2="359.3"/>
<line x1="76.41" y1="363.5" x2="76.41" y2="359.3"/>
<line x1="112.67" y1="363.5" x2="112.67" y2="359.3"/>
<line x1="148.93" y1="363.5" x2="148.93" y2="359.3"/>
<line x1="185.19" y1="363.5" x2="185.19" y2="359.3"/>
<line x1="221.45" y1="363.5" x2="221.45" y2="359.3"/>
<line x1="257.71" y1="363.5" x2="257.71" y2="359.3"/>
<line x1="293.97" y1="363.5" x2="293.97" y2="359.3"/>
<line x1="330.23" y1="363.5" x2="330.23" y2="359.3"/>
<line x1="366.49" y1="363.5" x2="366.49" y2="359.3"/>
<line x1="402.75" y1="363.5" x2="402.75" y2="359.3"/>
<line x1="40.15" y1="302.95" x2="43.36" y2="302.95" stroke-opacity="0.55"/>
<line x1="40.15" y1="265.25" x2="43.36" y2="265.25" stroke-opacity="0.55"/>
<line x1="40.15" y1="227.55" x2="43.36" y2="227.55" stroke-opacity="0.55"/>
<line x1="40.15" y1="189.85" x2="43.36" y2="189.85" stroke-opacity="0.55"/>
<line x1="40.15" y1="152.15" x2="43.36" y2="152.15" stroke-opacity="0.55"/>
<line x1="40.15" y1="114.45" x2="43.36" y2="114.45" stroke-opacity="0.55"/>
<line x1="40.15" y1="76.75" x2="43.36" y2="76.75" stroke-opacity="0.55"/>
<line x1="40.15" y1="39.05" x2="43.36" y2="39.05" stroke-opacity="0.55"/>
</g>
<line x1="419.85" y1="95.95" x2="457.40" y2="95.95" stroke="#ff8000" stroke-width="2.15"/>
<line x1="419.85" y1="116.85" x2="457.40" y2="116.85" stroke="#000" stroke-width="2.4"/>
<line x1="419.85" y1="137.75" x2="457.40" y2="137.75" stroke="#0000ff" stroke-width="1.95" stroke-dasharray="2.8 1.99"/>
<line x1="419.85" y1="158.65" x2="457.40" y2="158.65" stroke="#0000ff" stroke-width="1.95" stroke-dasharray="2.8 1.99"/>
<line x1="419.85" y1="179.55" x2="457.40" y2="179.55" stroke="#0000ff" stroke-width="1.95" stroke-dasharray="2.8 1.99"/>
<line x1="419.85" y1="200.45" x2="457.40" y2="200.45" stroke="#0000ff" stroke-width="1.95" stroke-dasharray="2.8 1.99"/>
<line x1="419.85" y1="221.35" x2="457.40" y2="221.35" stroke="#0000ff" stroke-width="1.95" stroke-dasharray="2.8 1.99"/>
<line x1="419.85" y1="242.25" x2="457.40" y2="242.25" stroke="#0000ff" stroke-width="1.95" stroke-dasharray="2.8 1.99"/>
<line x1="419.85" y1="263.15" x2="457.40" y2="263.15" stroke="#0000ff" stroke-width="1.95" stroke-dasharray="2.8 1.99"/>
<line x1="419.85" y1="284.05" x2="457.40" y2="284.05" stroke="#0000ff" stroke-width="1.95" stroke-dasharray="2.8 1.99"/>
</g>
<text transform="translate(44.92 376.75) scale(1.306 1)" font-size="10.0" fill="#666666">−</text>
<text transform="translate(52.59 376.00) scale(1.303 1)" font-size="10.29" fill="#666666">5</text>
<text transform="translate(92.42 376.75) scale(1.306 1)" font-size="10.0" fill="#666666">−</text>
<text transform="translate(100.38 376.21) scale(1.167 1)" font-size="10.59" fill="#666666">4</text>
<text transform="translate(139.92 376.75) scale(1.306 1)" font-size="10.0" fill="#666666">−</text>
<text transform="translate(147.59 376.00) scale(1.322 1)" font-size="10.14" fill="#666666">3</text>
<text transform="translate(187.42 376.75) scale(1.306 1)" font-size="10.0" fill="#666666">−</text>
<text transform="translate(194.94 376.10) scale(1.332 1)" font-size="10.29" fill="#666666">2</text>
<text transform="translate(234.92 376.75) scale(1.306 1)" font-size="10.0" fill="#666666">−</text>
<text transform="translate(241.95 376.10) scale(1.404 1)" font-size="10.43" fill="#666666">1</text>
<text transform="translate(286.43 376.00) scale(1.294 1)" font-size="10.14" fill="#666666">0</text>
<text transform="translate(333.28 376.10) scale(1.404 1)" font-size="10.43" fill="#666666">1</text>
<text transform="translate(381.27 376.10) scale(1.332 1)" font-size="10.29" fill="#666666">2</text>
<text transform="translate(428.91 376.00) scale(1.322 1)" font-size="10.14" fill="#666666">3</text>
<text transform="translate(476.70 376.21) scale(1.167 1)" font-size="10.59" fill="#666666">4</text>
<text transform="translate(523.91 376.00) scale(1.303 1)" font-size="10.29" fill="#666666">5</text>
<text transform="translate(33.49 305.95) scale(1.126 1)" font-size="10.72" font-style="italic" fill="#666666">E</text>
<text transform="translate(40.99 308.20) scale(1.171 1)" font-size="9.79" fill="#666666">0</text>
<text transform="translate(8.29 268.25) scale(1.126 1)" font-size="10.72" font-style="italic" fill="#666666">E</text>
<text transform="translate(15.94 270.50) scale(1.171 1)" font-size="9.79" fill="#666666">0</text>
<text transform="translate(23.86 269.17) scale(1.246 1)" font-size="10.2" fill="#666666">+</text>
<text transform="translate(31.56 268.05) scale(1.251 1)" font-size="10.29" fill="#666666">Δ</text>
<text transform="translate(40.51 270.00) scale(1.173 1)" font-size="9.64" font-style="italic" fill="#666666">E</text>
<text transform="translate(0.69 230.55) scale(1.126 1)" font-size="10.72" font-style="italic" fill="#666666">E</text>
<text transform="translate(8.34 232.80) scale(1.171 1)" font-size="9.79" fill="#666666">0</text>
<text transform="translate(16.26 231.47) scale(1.246 1)" font-size="10.2" fill="#666666">+</text>
<text transform="translate(23.39 230.55) scale(1.393 1)" font-size="10.14" fill="#666666">2</text>
<text transform="translate(31.56 230.35) scale(1.251 1)" font-size="10.29" fill="#666666">Δ</text>
<text transform="translate(40.51 232.30) scale(1.173 1)" font-size="9.64" font-style="italic" fill="#666666">E</text>
<text transform="translate(0.69 192.85) scale(1.126 1)" font-size="10.72" font-style="italic" fill="#666666">E</text>
<text transform="translate(8.34 195.10) scale(1.171 1)" font-size="9.79" fill="#666666">0</text>
<text transform="translate(16.26 193.77) scale(1.246 1)" font-size="10.2" fill="#666666">+</text>
<text transform="translate(23.55 192.75) scale(1.383 1)" font-size="10.00" fill="#666666">3</text>
<text transform="translate(31.56 192.65) scale(1.251 1)" font-size="10.29" fill="#666666">Δ</text>
<text transform="translate(40.51 194.60) scale(1.173 1)" font-size="9.64" font-style="italic" fill="#666666">E</text>
<text transform="translate(0.69 155.15) scale(1.126 1)" font-size="10.72" font-style="italic" fill="#666666">E</text>
<text transform="translate(8.34 157.40) scale(1.171 1)" font-size="9.79" fill="#666666">0</text>
<text transform="translate(16.26 156.07) scale(1.246 1)" font-size="10.2" fill="#666666">+</text>
<text transform="translate(23.85 155.25) scale(1.221 1)" font-size="10.44" fill="#666666">4</text>
<text transform="translate(31.56 154.95) scale(1.251 1)" font-size="10.29" fill="#666666">Δ</text>
<text transform="translate(40.51 156.90) scale(1.173 1)" font-size="9.64" font-style="italic" fill="#666666">E</text>
<text transform="translate(0.69 117.45) scale(1.126 1)" font-size="10.72" font-style="italic" fill="#666666">E</text>
<text transform="translate(8.34 119.70) scale(1.171 1)" font-size="9.79" fill="#666666">0</text>
<text transform="translate(16.26 118.37) scale(1.246 1)" font-size="10.2" fill="#666666">+</text>
<text transform="translate(23.55 117.35) scale(1.364 1)" font-size="10.14" fill="#666666">5</text>
<text transform="translate(31.56 117.25) scale(1.251 1)" font-size="10.29" fill="#666666">Δ</text>
<text transform="translate(40.51 119.20) scale(1.173 1)" font-size="9.64" font-style="italic" fill="#666666">E</text>
<text transform="translate(0.69 79.75) scale(1.126 1)" font-size="10.72" font-style="italic" fill="#666666">E</text>
<text transform="translate(8.34 82.00) scale(1.171 1)" font-size="9.79" fill="#666666">0</text>
<text transform="translate(16.26 80.67) scale(1.246 1)" font-size="10.2" fill="#666666">+</text>
<text transform="translate(23.39 79.65) scale(1.413 1)" font-size="10.00" fill="#666666">6</text>
<text transform="translate(31.56 79.55) scale(1.251 1)" font-size="10.29" fill="#666666">Δ</text>
<text transform="translate(40.51 81.50) scale(1.173 1)" font-size="9.64" font-style="italic" fill="#666666">E</text>
<text transform="translate(0.69 42.05) scale(1.126 1)" font-size="10.72" font-style="italic" fill="#666666">E</text>
<text transform="translate(8.34 44.30) scale(1.171 1)" font-size="9.79" fill="#666666">0</text>
<text transform="translate(16.26 42.97) scale(1.246 1)" font-size="10.2" fill="#666666">+</text>
<text transform="translate(23.39 42.15) scale(1.353 1)" font-size="10.44" fill="#666666">7</text>
<text transform="translate(31.56 41.85) scale(1.251 1)" font-size="10.29" fill="#666666">Δ</text>
<text transform="translate(40.51 43.80) scale(1.173 1)" font-size="9.64" font-style="italic" fill="#666666">E</text>
<text transform="translate(262.16 12.80) scale(1.173 1)" font-size="12.46" font-style="italic" fill="#666666">E</text>
<text transform="translate(270.85 15.35) scale(1.248 1)" font-size="9.93" fill="#666666">0</text>
<text transform="translate(278.05 13.79) scale(1.476 1)" font-size="11.5" fill="#666666">=</text>
<text transform="translate(287.53 12.80) scale(1.263 1)" font-size="12.46" fill="#666666">Δ</text>
<text transform="translate(298.46 14.80) scale(1.209 1)" font-size="9.42" font-style="italic" fill="#666666">E</text>
<text transform="translate(306.40 13.10) scale(1.190 1)" font-size="12.60" fill="#666666">/</text>
<text transform="translate(310.12 12.80) scale(1.265 1)" font-size="12.29" fill="#666666">2</text>
<text transform="translate(609.70 100.40) scale(1.194 1)" font-size="12.75" fill="#000000" stroke="#000" stroke-width="0.1">V</text>
<text transform="translate(620.64 100.87) scale(0.943 1)" font-size="13.46" fill="#000000" stroke="#000" stroke-width="0.1">(</text>
<text transform="translate(625.64 100.40) scale(1.328 1)" font-size="12.08" fill="#000000" stroke="#000" stroke-width="0.1">x</text>
<text transform="translate(634.24 100.87) scale(1.157 1)" font-size="13.46" fill="#000000" stroke="#000" stroke-width="0.1">)</text>
<text transform="translate(608.97 121.30) scale(1.301 1)" font-size="12.41" fill="#000000" stroke="#000" stroke-width="0.1">m</text>
<text transform="translate(622.84 121.77) scale(0.943 1)" font-size="13.46" fill="#000000" stroke="#000" stroke-width="0.1">(</text>
<text transform="translate(627.84 121.30) scale(1.328 1)" font-size="12.08" fill="#000000" stroke="#000" stroke-width="0.1">x</text>
<text transform="translate(636.43 121.77) scale(1.258 1)" font-size="13.46" fill="#000000" stroke="#000" stroke-width="0.1">)</text>
<text transform="translate(609.39 142.51) scale(1.303 1)" font-size="11.63" font-style="italic" fill="#000000" stroke="#000" stroke-width="0.1">ψ</text>
<text transform="translate(620.88 144.25) scale(1.435 1)" font-size="10.00" fill="#000000" stroke="#000" stroke-width="0.1">7</text>
<text transform="translate(629.19 142.50) scale(1.046 1)" font-size="12.87" fill="#000000" stroke="#000" stroke-width="0.1">(</text>
<text transform="translate(634.25 142.45) scale(1.268 1)" font-size="12.08" fill="#000000" stroke="#000" stroke-width="0.1">x</text>
<text transform="translate(642.68 142.50) scale(1.315 1)" font-size="12.87" fill="#000000" stroke="#000" stroke-width="0.1">)</text>
<text transform="translate(609.39 163.41) scale(1.303 1)" font-size="11.63" font-style="italic" fill="#000000" stroke="#000" stroke-width="0.1">ψ</text>
<text transform="translate(620.88 164.95) scale(1.498 1)" font-size="9.58" fill="#000000" stroke="#000" stroke-width="0.1">6</text>
<text transform="translate(629.19 163.40) scale(1.046 1)" font-size="12.87" fill="#000000" stroke="#000" stroke-width="0.1">(</text>
<text transform="translate(634.25 163.35) scale(1.268 1)" font-size="12.08" fill="#000000" stroke="#000" stroke-width="0.1">x</text>
<text transform="translate(642.68 163.40) scale(1.315 1)" font-size="12.87" fill="#000000" stroke="#000" stroke-width="0.1">)</text>
<text transform="translate(609.39 184.31) scale(1.303 1)" font-size="11.63" font-style="italic" fill="#000000" stroke="#000" stroke-width="0.1">ψ</text>
<text transform="translate(621.04 185.85) scale(1.446 1)" font-size="9.71" fill="#000000" stroke="#000" stroke-width="0.1">5</text>
<text transform="translate(629.19 184.30) scale(1.046 1)" font-size="12.87" fill="#000000" stroke="#000" stroke-width="0.1">(</text>
<text transform="translate(634.25 184.25) scale(1.268 1)" font-size="12.08" fill="#000000" stroke="#000" stroke-width="0.1">x</text>
<text transform="translate(642.68 184.30) scale(1.315 1)" font-size="12.87" fill="#000000" stroke="#000" stroke-width="0.1">)</text>
<text transform="translate(609.39 205.21) scale(1.303 1)" font-size="11.63" font-style="italic" fill="#000000" stroke="#000" stroke-width="0.1">ψ</text>
<text transform="translate(621.34 206.95) scale(1.294 1)" font-size="10.00" fill="#000000" stroke="#000" stroke-width="0.1">4</text>
<text transform="translate(629.19 205.20) scale(1.046 1)" font-size="12.87" fill="#000000" stroke="#000" stroke-width="0.1">(</text>
<text transform="translate(634.25 205.15) scale(1.268 1)" font-size="12.08" fill="#000000" stroke="#000" stroke-width="0.1">x</text>
<text transform="translate(642.68 205.20) scale(1.315 1)" font-size="12.87" fill="#000000" stroke="#000" stroke-width="0.1">)</text>
<text transform="translate(609.39 226.11) scale(1.303 1)" font-size="11.63" font-style="italic" fill="#000000" stroke="#000" stroke-width="0.1">ψ</text>
<text transform="translate(621.04 227.65) scale(1.466 1)" font-size="9.58" fill="#000000" stroke="#000" stroke-width="0.1">3</text>
<text transform="translate(629.19 226.10) scale(1.046 1)" font-size="12.87" fill="#000000" stroke="#000" stroke-width="0.1">(</text>
<text transform="translate(634.25 226.05) scale(1.268 1)" font-size="12.08" fill="#000000" stroke="#000" stroke-width="0.1">x</text>
<text transform="translate(642.68 226.10) scale(1.315 1)" font-size="12.87" fill="#000000" stroke="#000" stroke-width="0.1">)</text>
<text transform="translate(609.39 247.01) scale(1.303 1)" font-size="11.63" font-style="italic" fill="#000000" stroke="#000" stroke-width="0.1">ψ</text>
<text transform="translate(620.88 248.65) scale(1.477 1)" font-size="9.71" fill="#000000" stroke="#000" stroke-width="0.1">2</text>
<text transform="translate(629.19 247.00) scale(1.046 1)" font-size="12.87" fill="#000000" stroke="#000" stroke-width="0.1">(</text>
<text transform="translate(634.25 246.95) scale(1.268 1)" font-size="12.08" fill="#000000" stroke="#000" stroke-width="0.1">x</text>
<text transform="translate(642.68 247.00) scale(1.315 1)" font-size="12.87" fill="#000000" stroke="#000" stroke-width="0.1">)</text>
<text transform="translate(609.39 267.91) scale(1.303 1)" font-size="11.63" font-style="italic" fill="#000000" stroke="#000" stroke-width="0.1">ψ</text>
<text transform="translate(620.37 269.55) scale(1.557 1)" font-size="9.86" fill="#000000" stroke="#000" stroke-width="0.1">1</text>
<text transform="translate(629.19 267.90) scale(1.046 1)" font-size="12.87" fill="#000000" stroke="#000" stroke-width="0.1">(</text>
<text transform="translate(634.25 267.85) scale(1.268 1)" font-size="12.08" fill="#000000" stroke="#000" stroke-width="0.1">x</text>
<text transform="translate(642.68 267.90) scale(1.315 1)" font-size="12.87" fill="#000000" stroke="#000" stroke-width="0.1">)</text>
<text transform="translate(609.39 288.81) scale(1.303 1)" font-size="11.63" font-style="italic" fill="#000000" stroke="#000" stroke-width="0.1">ψ</text>
<text transform="translate(621.05 290.35) scale(1.436 1)" font-size="9.58" fill="#000000" stroke="#000" stroke-width="0.1">0</text>
<text transform="translate(629.19 288.80) scale(1.046 1)" font-size="12.87" fill="#000000" stroke="#000" stroke-width="0.1">(</text>
<text transform="translate(634.25 288.75) scale(1.268 1)" font-size="12.08" fill="#000000" stroke="#000" stroke-width="0.1">x</text>
<text transform="translate(642.68 288.80) scale(1.315 1)" font-size="12.87" fill="#000000" stroke="#000" stroke-width="0.1">)</text>
</svg></body></html>
